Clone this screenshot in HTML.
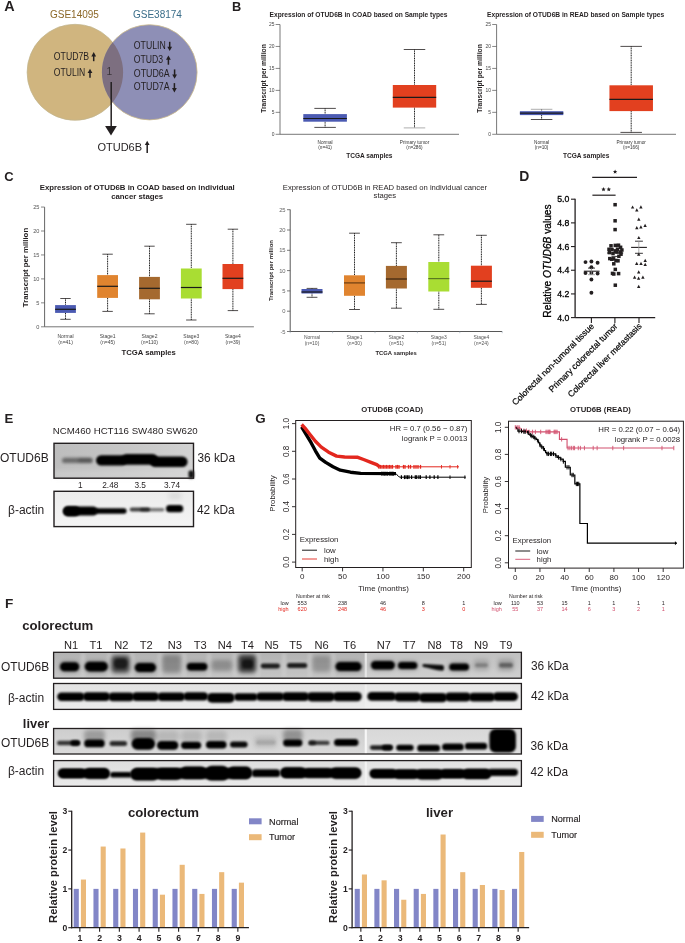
<!DOCTYPE html><html><head><meta charset="utf-8"><style>html,body{margin:0;padding:0;background:#fff;}svg{display:block;will-change:transform;}text{font-family:"Liberation Sans",sans-serif;}</style></head><body>
<svg width="685" height="943" viewBox="0 0 685 943">
<defs><filter id="bl5" x="-50%" y="-100%" width="200%" height="300%"><feGaussianBlur stdDeviation="0.5"/></filter><filter id="bl6" x="-50%" y="-100%" width="200%" height="300%"><feGaussianBlur stdDeviation="0.6"/></filter><filter id="bl7" x="-50%" y="-100%" width="200%" height="300%"><feGaussianBlur stdDeviation="0.7"/></filter><filter id="bl8" x="-50%" y="-100%" width="200%" height="300%"><feGaussianBlur stdDeviation="0.8"/></filter><filter id="bl9" x="-50%" y="-100%" width="200%" height="300%"><feGaussianBlur stdDeviation="0.9"/></filter><filter id="bl10" x="-50%" y="-100%" width="200%" height="300%"><feGaussianBlur stdDeviation="1.0"/></filter><filter id="bl11" x="-50%" y="-100%" width="200%" height="300%"><feGaussianBlur stdDeviation="1.1"/></filter><filter id="bl12" x="-50%" y="-100%" width="200%" height="300%"><feGaussianBlur stdDeviation="1.2"/></filter><filter id="bl13" x="-50%" y="-100%" width="200%" height="300%"><feGaussianBlur stdDeviation="1.3"/></filter><filter id="bl14" x="-50%" y="-100%" width="200%" height="300%"><feGaussianBlur stdDeviation="1.4"/></filter><filter id="bl15" x="-50%" y="-100%" width="200%" height="300%"><feGaussianBlur stdDeviation="1.5"/></filter><filter id="bl16" x="-50%" y="-100%" width="200%" height="300%"><feGaussianBlur stdDeviation="1.6"/></filter><filter id="bl17" x="-50%" y="-100%" width="200%" height="300%"><feGaussianBlur stdDeviation="1.7"/></filter><filter id="bl18" x="-50%" y="-100%" width="200%" height="300%"><feGaussianBlur stdDeviation="1.8"/></filter><filter id="bl19" x="-50%" y="-100%" width="200%" height="300%"><feGaussianBlur stdDeviation="1.9"/></filter><filter id="bl20" x="-50%" y="-100%" width="200%" height="300%"><feGaussianBlur stdDeviation="2.0"/></filter><filter id="bl21" x="-50%" y="-100%" width="200%" height="300%"><feGaussianBlur stdDeviation="2.1"/></filter><filter id="bl22" x="-50%" y="-100%" width="200%" height="300%"><feGaussianBlur stdDeviation="2.2"/></filter><filter id="bl23" x="-50%" y="-100%" width="200%" height="300%"><feGaussianBlur stdDeviation="2.3"/></filter><filter id="bl24" x="-50%" y="-100%" width="200%" height="300%"><feGaussianBlur stdDeviation="2.4"/></filter><filter id="bl25" x="-50%" y="-100%" width="200%" height="300%"><feGaussianBlur stdDeviation="2.5"/></filter><filter id="bl26" x="-50%" y="-100%" width="200%" height="300%"><feGaussianBlur stdDeviation="2.6"/></filter><filter id="bl27" x="-50%" y="-100%" width="200%" height="300%"><feGaussianBlur stdDeviation="2.7"/></filter><filter id="bl28" x="-50%" y="-100%" width="200%" height="300%"><feGaussianBlur stdDeviation="2.8"/></filter><filter id="bl29" x="-50%" y="-100%" width="200%" height="300%"><feGaussianBlur stdDeviation="2.9"/></filter><filter id="bl30" x="-50%" y="-100%" width="200%" height="300%"><feGaussianBlur stdDeviation="3.0"/></filter><filter id="bl31" x="-50%" y="-100%" width="200%" height="300%"><feGaussianBlur stdDeviation="3.1"/></filter><filter id="bl32" x="-50%" y="-100%" width="200%" height="300%"><feGaussianBlur stdDeviation="3.2"/></filter><filter id="bl33" x="-50%" y="-100%" width="200%" height="300%"><feGaussianBlur stdDeviation="3.3"/></filter><filter id="bl34" x="-50%" y="-100%" width="200%" height="300%"><feGaussianBlur stdDeviation="3.4"/></filter><filter id="bl35" x="-50%" y="-100%" width="200%" height="300%"><feGaussianBlur stdDeviation="3.5"/></filter><filter id="bl36" x="-50%" y="-100%" width="200%" height="300%"><feGaussianBlur stdDeviation="3.6"/></filter><filter id="bl37" x="-50%" y="-100%" width="200%" height="300%"><feGaussianBlur stdDeviation="3.7"/></filter><filter id="bl38" x="-50%" y="-100%" width="200%" height="300%"><feGaussianBlur stdDeviation="3.8"/></filter><filter id="bl39" x="-50%" y="-100%" width="200%" height="300%"><feGaussianBlur stdDeviation="3.9"/></filter><filter id="bl40" x="-50%" y="-100%" width="200%" height="300%"><feGaussianBlur stdDeviation="4.0"/></filter></defs>
<rect width="685" height="943" fill="#fff"/>
<text x="4.20" y="11.00" font-size="14.4" text-anchor="start" font-weight="bold" fill="#231f20" >A</text>
<text x="50.00" y="17.50" font-size="10" text-anchor="start" fill="#8c6828" >GSE14095</text>
<text x="133.00" y="17.50" font-size="10" text-anchor="start" fill="#3a6d89" >GSE38174</text>
<defs><clipPath id="cR"><circle cx="149.5" cy="72.3" r="47.6"/></clipPath></defs>
<circle cx="75.1" cy="72.3" r="48" fill="#d0b57f" stroke="#c0b48e" stroke-width="0.7"/>
<circle cx="149.5" cy="72.3" r="47.6" fill="#8e8fb6" stroke="#cdbb8c" stroke-width="0.8"/>
<circle cx="75.1" cy="72.3" r="48" fill="#7d6f80" clip-path="url(#cR)"/>
<text x="53.80" y="59.60" font-size="10.4" text-anchor="start" fill="#231f20"  textLength="35.30" lengthAdjust="spacingAndGlyphs">OTUD7B</text>
<line x1="93.70" y1="54.40" x2="93.70" y2="61.20" stroke="#231f20" stroke-width="1.5" />
<path d="M91.30,56.40 L93.70,52.10 L96.10,56.40 Z" fill="#231f20"/>
<text x="53.80" y="75.60" font-size="10.4" text-anchor="start" fill="#231f20"  textLength="31.50" lengthAdjust="spacingAndGlyphs">OTULIN</text>
<line x1="90.00" y1="71.00" x2="90.00" y2="77.70" stroke="#231f20" stroke-width="1.5" />
<path d="M87.60,73.00 L90.00,68.70 L92.40,73.00 Z" fill="#231f20"/>
<text x="133.80" y="49.00" font-size="10.4" text-anchor="start" fill="#231f20"  textLength="31.90" lengthAdjust="spacingAndGlyphs">OTULIN</text>
<line x1="169.70" y1="41.80" x2="169.70" y2="48.80" stroke="#231f20" stroke-width="1.5" />
<path d="M167.30,46.80 L169.70,51.10 L172.10,46.80 Z" fill="#231f20"/>
<text x="133.80" y="62.90" font-size="10.4" text-anchor="start" fill="#231f20"  textLength="29.40" lengthAdjust="spacingAndGlyphs">OTUD3</text>
<line x1="168.40" y1="57.70" x2="168.40" y2="64.70" stroke="#231f20" stroke-width="1.5" />
<path d="M166.00,59.70 L168.40,55.40 L170.80,59.70 Z" fill="#231f20"/>
<text x="133.80" y="76.60" font-size="10.4" text-anchor="start" fill="#231f20"  textLength="35.90" lengthAdjust="spacingAndGlyphs">OTUD6A</text>
<line x1="174.60" y1="69.40" x2="174.60" y2="76.40" stroke="#231f20" stroke-width="1.5" />
<path d="M172.20,74.40 L174.60,78.70 L177.00,74.40 Z" fill="#231f20"/>
<text x="133.80" y="90.30" font-size="10.4" text-anchor="start" fill="#231f20"  textLength="35.90" lengthAdjust="spacingAndGlyphs">OTUD7A</text>
<line x1="174.40" y1="83.10" x2="174.40" y2="90.10" stroke="#231f20" stroke-width="1.5" />
<path d="M172.00,88.10 L174.40,92.40 L176.80,88.10 Z" fill="#231f20"/>
<text x="106.60" y="74.50" font-size="10.2" text-anchor="start" fill="#3a3438" >1</text>
<line x1="111.20" y1="82.00" x2="111.20" y2="127.00" stroke="#231f20" stroke-width="1.5" />
<path d="M105.1,125.9 L116.8,125.9 L111,135.5 Z" fill="#231f20"/>
<text x="97.40" y="150.70" font-size="11.6" text-anchor="start" fill="#231f20"  textLength="44.70" lengthAdjust="spacingAndGlyphs">OTUD6B</text>
<line x1="147.20" y1="143.00" x2="147.20" y2="152.90" stroke="#231f20" stroke-width="1.5" />
<path d="M144.80,145.00 L147.20,140.70 L149.60,145.00 Z" fill="#231f20"/>
<text x="231.90" y="11.00" font-size="12.8" text-anchor="start" font-weight="bold" fill="#231f20" >B</text>
<text x="269.60" y="17.00" font-size="6.65" text-anchor="start" font-weight="bold" fill="#231f20" >Expression of OTUD6B in COAD based on Sample types</text>
<line x1="280.00" y1="24.50" x2="280.00" y2="134.30" stroke="#555" stroke-width="0.8" />
<line x1="280.00" y1="134.30" x2="459.00" y2="134.30" stroke="#555" stroke-width="0.8" />
<line x1="275.60" y1="134.30" x2="280.00" y2="134.30" stroke="#555" stroke-width="0.7" />
<text x="274.40" y="136.00" font-size="4.9" text-anchor="end" fill="#444" >0</text>
<line x1="275.60" y1="112.34" x2="280.00" y2="112.34" stroke="#555" stroke-width="0.7" />
<text x="274.40" y="114.04" font-size="4.9" text-anchor="end" fill="#444" >5</text>
<line x1="275.60" y1="90.38" x2="280.00" y2="90.38" stroke="#555" stroke-width="0.7" />
<text x="274.40" y="92.08" font-size="4.9" text-anchor="end" fill="#444" >10</text>
<line x1="275.60" y1="68.42" x2="280.00" y2="68.42" stroke="#555" stroke-width="0.7" />
<text x="274.40" y="70.12" font-size="4.9" text-anchor="end" fill="#444" >15</text>
<line x1="275.60" y1="46.46" x2="280.00" y2="46.46" stroke="#555" stroke-width="0.7" />
<text x="274.40" y="48.16" font-size="4.9" text-anchor="end" fill="#444" >20</text>
<line x1="275.60" y1="24.50" x2="280.00" y2="24.50" stroke="#555" stroke-width="0.7" />
<text x="274.40" y="26.20" font-size="4.9" text-anchor="end" fill="#444" >25</text>
<text transform="translate(265.70,78.50) rotate(-90)" x="0" y="0" font-size="6.75" text-anchor="middle" font-weight="bold" fill="#231f20">Transcript per million</text>
<line x1="325.10" y1="108.40" x2="325.10" y2="114.10" stroke="#111" stroke-width="0.95" stroke-dasharray="1.1,0.6"/>
<line x1="325.10" y1="121.70" x2="325.10" y2="127.40" stroke="#111" stroke-width="0.95" stroke-dasharray="1.1,0.6"/>
<line x1="314.35" y1="108.40" x2="335.85" y2="108.40" stroke="#231f20" stroke-width="0.8" />
<line x1="314.35" y1="127.40" x2="335.85" y2="127.40" stroke="#231f20" stroke-width="0.8" />
<rect x="303.30" y="114.10" width="43.60" height="7.60" fill="#4b5ab2" />
<line x1="303.30" y1="118.50" x2="346.90" y2="118.50" stroke="#1a1a1a" stroke-width="1.2" />
<text x="325.10" y="143.60" font-size="4.7" text-anchor="middle" fill="#333" >Normal</text>
<text x="325.10" y="149.00" font-size="4.7" text-anchor="middle" fill="#333" >(n=41)</text>
<line x1="414.50" y1="49.50" x2="414.50" y2="85.00" stroke="#111" stroke-width="0.95" stroke-dasharray="1.1,0.6"/>
<line x1="414.50" y1="107.60" x2="414.50" y2="127.90" stroke="#111" stroke-width="0.95" stroke-dasharray="1.1,0.6"/>
<line x1="403.75" y1="49.50" x2="425.25" y2="49.50" stroke="#231f20" stroke-width="0.8" />
<line x1="403.75" y1="127.90" x2="425.25" y2="127.90" stroke="#999" stroke-width="0.8" />
<rect x="392.80" y="85.00" width="43.40" height="22.60" fill="#e2401f" />
<line x1="392.80" y1="97.40" x2="436.20" y2="97.40" stroke="#1a1a1a" stroke-width="1.2" />
<text x="414.50" y="143.60" font-size="4.7" text-anchor="middle" fill="#333" >Primary tumor</text>
<text x="414.50" y="149.00" font-size="4.7" text-anchor="middle" fill="#333" >(n=286)</text>
<text x="346.20" y="158.00" font-size="6.55" text-anchor="start" font-weight="bold" fill="#231f20" >TCGA samples</text>
<text x="487.10" y="17.00" font-size="6.65" text-anchor="start" font-weight="bold" fill="#231f20" >Expression of OTUD6B in READ based on Sample types</text>
<line x1="496.60" y1="24.50" x2="496.60" y2="134.30" stroke="#555" stroke-width="0.8" />
<line x1="496.60" y1="134.30" x2="676.00" y2="134.30" stroke="#555" stroke-width="0.8" />
<line x1="492.20" y1="134.30" x2="496.60" y2="134.30" stroke="#555" stroke-width="0.7" />
<text x="491.00" y="136.00" font-size="4.9" text-anchor="end" fill="#444" >0</text>
<line x1="492.20" y1="112.34" x2="496.60" y2="112.34" stroke="#555" stroke-width="0.7" />
<text x="491.00" y="114.04" font-size="4.9" text-anchor="end" fill="#444" >5</text>
<line x1="492.20" y1="90.38" x2="496.60" y2="90.38" stroke="#555" stroke-width="0.7" />
<text x="491.00" y="92.08" font-size="4.9" text-anchor="end" fill="#444" >10</text>
<line x1="492.20" y1="68.42" x2="496.60" y2="68.42" stroke="#555" stroke-width="0.7" />
<text x="491.00" y="70.12" font-size="4.9" text-anchor="end" fill="#444" >15</text>
<line x1="492.20" y1="46.46" x2="496.60" y2="46.46" stroke="#555" stroke-width="0.7" />
<text x="491.00" y="48.16" font-size="4.9" text-anchor="end" fill="#444" >20</text>
<line x1="492.20" y1="24.50" x2="496.60" y2="24.50" stroke="#555" stroke-width="0.7" />
<text x="491.00" y="26.20" font-size="4.9" text-anchor="end" fill="#444" >25</text>
<text transform="translate(481.60,78.50) rotate(-90)" x="0" y="0" font-size="6.75" text-anchor="middle" font-weight="bold" fill="#231f20">Transcript per million</text>
<line x1="541.60" y1="109.30" x2="541.60" y2="111.20" stroke="#111" stroke-width="0.95" stroke-dasharray="1.1,0.6"/>
<line x1="541.60" y1="115.10" x2="541.60" y2="119.50" stroke="#111" stroke-width="0.95" stroke-dasharray="1.1,0.6"/>
<line x1="530.85" y1="109.30" x2="552.35" y2="109.30" stroke="#999" stroke-width="0.8" />
<line x1="530.85" y1="119.50" x2="552.35" y2="119.50" stroke="#231f20" stroke-width="0.8" />
<rect x="519.90" y="111.20" width="43.40" height="3.90" fill="#4b5ab2" />
<line x1="519.90" y1="113.10" x2="563.30" y2="113.10" stroke="#1a1a1a" stroke-width="1.2" />
<text x="541.60" y="143.60" font-size="4.7" text-anchor="middle" fill="#333" >Normal</text>
<text x="541.60" y="149.00" font-size="4.7" text-anchor="middle" fill="#333" >(n=10)</text>
<line x1="631.20" y1="46.40" x2="631.20" y2="85.30" stroke="#111" stroke-width="0.95" stroke-dasharray="1.1,0.6"/>
<line x1="631.20" y1="111.10" x2="631.20" y2="132.40" stroke="#111" stroke-width="0.95" stroke-dasharray="1.1,0.6"/>
<line x1="620.45" y1="46.40" x2="641.95" y2="46.40" stroke="#231f20" stroke-width="0.8" />
<line x1="620.45" y1="132.40" x2="641.95" y2="132.40" stroke="#231f20" stroke-width="0.8" />
<rect x="609.45" y="85.30" width="43.50" height="25.80" fill="#e2401f" />
<line x1="609.45" y1="99.40" x2="652.95" y2="99.40" stroke="#1a1a1a" stroke-width="1.2" />
<text x="631.20" y="143.60" font-size="4.7" text-anchor="middle" fill="#333" >Primary tumor</text>
<text x="631.20" y="149.00" font-size="4.7" text-anchor="middle" fill="#333" >(n=166)</text>
<text x="563.00" y="158.00" font-size="6.55" text-anchor="start" font-weight="bold" fill="#231f20" >TCGA samples</text>
<text x="4.20" y="180.60" font-size="13" text-anchor="start" font-weight="bold" fill="#231f20" >C</text>
<text x="137.20" y="190.00" font-size="7.8" text-anchor="middle" font-weight="bold" fill="#231f20" >Expression of OTUD6B in COAD based on individual</text>
<text x="137.20" y="198.80" font-size="7.8" text-anchor="middle" font-weight="bold" fill="#231f20" >cancer stages</text>
<line x1="44.60" y1="207.10" x2="44.60" y2="326.80" stroke="#555" stroke-width="0.9" />
<line x1="44.60" y1="326.80" x2="253.90" y2="326.80" stroke="#666" stroke-width="0.9" />
<line x1="41.00" y1="326.80" x2="44.60" y2="326.80" stroke="#555" stroke-width="0.7" />
<text x="39.40" y="328.80" font-size="5.6" text-anchor="end" fill="#555" >0</text>
<line x1="41.00" y1="302.85" x2="44.60" y2="302.85" stroke="#555" stroke-width="0.7" />
<text x="39.40" y="304.85" font-size="5.6" text-anchor="end" fill="#555" >5</text>
<line x1="41.00" y1="278.90" x2="44.60" y2="278.90" stroke="#555" stroke-width="0.7" />
<text x="39.40" y="280.90" font-size="5.6" text-anchor="end" fill="#555" >10</text>
<line x1="41.00" y1="254.95" x2="44.60" y2="254.95" stroke="#555" stroke-width="0.7" />
<text x="39.40" y="256.95" font-size="5.6" text-anchor="end" fill="#555" >15</text>
<line x1="41.00" y1="231.00" x2="44.60" y2="231.00" stroke="#555" stroke-width="0.7" />
<text x="39.40" y="233.00" font-size="5.6" text-anchor="end" fill="#555" >20</text>
<line x1="41.00" y1="207.05" x2="44.60" y2="207.05" stroke="#555" stroke-width="0.7" />
<text x="39.40" y="209.05" font-size="5.6" text-anchor="end" fill="#555" >25</text>
<text transform="translate(28.30,267.50) rotate(-90)" x="0" y="0" font-size="7.8" text-anchor="middle" font-weight="bold" fill="#231f20">Transcript per million</text>
<line x1="65.50" y1="298.50" x2="65.50" y2="305.10" stroke="#111" stroke-width="0.95" stroke-dasharray="1.1,0.6"/>
<line x1="65.50" y1="312.90" x2="65.50" y2="319.30" stroke="#111" stroke-width="0.95" stroke-dasharray="1.1,0.6"/>
<line x1="60.30" y1="298.50" x2="70.70" y2="298.50" stroke="#231f20" stroke-width="0.8" />
<line x1="60.30" y1="319.30" x2="70.70" y2="319.30" stroke="#231f20" stroke-width="0.8" />
<rect x="55.10" y="305.10" width="20.80" height="7.80" fill="#4b5ab2" />
<line x1="55.10" y1="309.30" x2="75.90" y2="309.30" stroke="#1a1a1a" stroke-width="1.2" />
<text x="65.50" y="337.70" font-size="5.0" text-anchor="middle" fill="#444" >Normal</text>
<text x="65.50" y="344.20" font-size="5.0" text-anchor="middle" fill="#444" >(n=41)</text>
<line x1="107.60" y1="254.20" x2="107.60" y2="275.10" stroke="#111" stroke-width="0.95" stroke-dasharray="1.1,0.6"/>
<line x1="107.60" y1="297.90" x2="107.60" y2="311.40" stroke="#111" stroke-width="0.95" stroke-dasharray="1.1,0.6"/>
<line x1="102.40" y1="254.20" x2="112.80" y2="254.20" stroke="#231f20" stroke-width="0.8" />
<line x1="102.40" y1="311.40" x2="112.80" y2="311.40" stroke="#231f20" stroke-width="0.8" />
<rect x="97.20" y="275.10" width="20.80" height="22.80" fill="#e0842f" />
<line x1="97.20" y1="286.30" x2="118.00" y2="286.30" stroke="#1a1a1a" stroke-width="1.2" />
<text x="107.60" y="337.70" font-size="5.0" text-anchor="middle" fill="#444" >Stage1</text>
<text x="107.60" y="344.20" font-size="5.0" text-anchor="middle" fill="#444" >(n=45)</text>
<line x1="149.50" y1="246.20" x2="149.50" y2="276.90" stroke="#111" stroke-width="0.95" stroke-dasharray="1.1,0.6"/>
<line x1="149.50" y1="299.30" x2="149.50" y2="313.80" stroke="#111" stroke-width="0.95" stroke-dasharray="1.1,0.6"/>
<line x1="144.30" y1="246.20" x2="154.70" y2="246.20" stroke="#231f20" stroke-width="0.8" />
<line x1="144.30" y1="313.80" x2="154.70" y2="313.80" stroke="#231f20" stroke-width="0.8" />
<rect x="139.10" y="276.90" width="20.80" height="22.40" fill="#a5692f" />
<line x1="139.10" y1="288.30" x2="159.90" y2="288.30" stroke="#1a1a1a" stroke-width="1.2" />
<text x="149.50" y="337.70" font-size="5.0" text-anchor="middle" fill="#444" >Stage2</text>
<text x="149.50" y="344.20" font-size="5.0" text-anchor="middle" fill="#444" >(n=110)</text>
<line x1="191.30" y1="224.30" x2="191.30" y2="268.50" stroke="#111" stroke-width="0.95" stroke-dasharray="1.1,0.6"/>
<line x1="191.30" y1="298.50" x2="191.30" y2="320.00" stroke="#111" stroke-width="0.95" stroke-dasharray="1.1,0.6"/>
<line x1="186.10" y1="224.30" x2="196.50" y2="224.30" stroke="#231f20" stroke-width="0.8" />
<line x1="186.10" y1="320.00" x2="196.50" y2="320.00" stroke="#231f20" stroke-width="0.8" />
<rect x="180.90" y="268.50" width="20.80" height="30.00" fill="#a9dd33" />
<line x1="180.90" y1="287.50" x2="201.70" y2="287.50" stroke="#1a1a1a" stroke-width="1.2" />
<text x="191.30" y="337.70" font-size="5.0" text-anchor="middle" fill="#444" >Stage3</text>
<text x="191.30" y="344.20" font-size="5.0" text-anchor="middle" fill="#444" >(n=80)</text>
<line x1="232.90" y1="229.20" x2="232.90" y2="264.00" stroke="#111" stroke-width="0.95" stroke-dasharray="1.1,0.6"/>
<line x1="232.90" y1="289.10" x2="232.90" y2="310.60" stroke="#111" stroke-width="0.95" stroke-dasharray="1.1,0.6"/>
<line x1="227.70" y1="229.20" x2="238.10" y2="229.20" stroke="#231f20" stroke-width="0.8" />
<line x1="227.70" y1="310.60" x2="238.10" y2="310.60" stroke="#231f20" stroke-width="0.8" />
<rect x="222.50" y="264.00" width="20.80" height="25.10" fill="#e2401f" />
<line x1="222.50" y1="278.30" x2="243.30" y2="278.30" stroke="#1a1a1a" stroke-width="1.2" />
<text x="232.90" y="337.70" font-size="5.0" text-anchor="middle" fill="#444" >Stage4</text>
<text x="232.90" y="344.20" font-size="5.0" text-anchor="middle" fill="#444" >(n=39)</text>
<text x="121.50" y="355.00" font-size="7.7" text-anchor="start" font-weight="bold" fill="#231f20" >TCGA samples</text>
<text x="384.90" y="189.50" font-size="7.68" text-anchor="middle" fill="#231f20" >Expression of OTUD6B in READ based on individual cancer</text>
<text x="384.90" y="198.30" font-size="7.68" text-anchor="middle" fill="#231f20" >stages</text>
<line x1="290.20" y1="209.50" x2="290.20" y2="331.50" stroke="#444" stroke-width="0.9" />
<line x1="290.20" y1="331.50" x2="502.20" y2="331.50" stroke="#444" stroke-width="0.9" />
<line x1="287.00" y1="331.50" x2="290.20" y2="331.50" stroke="#444" stroke-width="0.7" />
<text x="285.60" y="333.60" font-size="5.8" text-anchor="end" fill="#666" >-5</text>
<line x1="287.00" y1="311.20" x2="290.20" y2="311.20" stroke="#444" stroke-width="0.7" />
<text x="285.60" y="313.30" font-size="5.8" text-anchor="end" fill="#666" >0</text>
<line x1="287.00" y1="290.90" x2="290.20" y2="290.90" stroke="#444" stroke-width="0.7" />
<text x="285.60" y="293.00" font-size="5.8" text-anchor="end" fill="#666" >5</text>
<line x1="287.00" y1="270.60" x2="290.20" y2="270.60" stroke="#444" stroke-width="0.7" />
<text x="285.60" y="272.70" font-size="5.8" text-anchor="end" fill="#666" >10</text>
<line x1="287.00" y1="250.30" x2="290.20" y2="250.30" stroke="#444" stroke-width="0.7" />
<text x="285.60" y="252.40" font-size="5.8" text-anchor="end" fill="#666" >15</text>
<line x1="287.00" y1="230.00" x2="290.20" y2="230.00" stroke="#444" stroke-width="0.7" />
<text x="285.60" y="232.10" font-size="5.8" text-anchor="end" fill="#666" >20</text>
<line x1="287.00" y1="209.70" x2="290.20" y2="209.70" stroke="#444" stroke-width="0.7" />
<text x="285.60" y="211.80" font-size="5.8" text-anchor="end" fill="#666" >25</text>
<line x1="290.20" y1="331.50" x2="290.20" y2="333.20" stroke="#9ab" stroke-width="0.6" />
<line x1="332.60" y1="331.50" x2="332.60" y2="333.20" stroke="#9ab" stroke-width="0.6" />
<line x1="375.00" y1="331.50" x2="375.00" y2="333.20" stroke="#9ab" stroke-width="0.6" />
<line x1="417.40" y1="331.50" x2="417.40" y2="333.20" stroke="#9ab" stroke-width="0.6" />
<line x1="459.80" y1="331.50" x2="459.80" y2="333.20" stroke="#9ab" stroke-width="0.6" />
<line x1="502.20" y1="331.50" x2="502.20" y2="333.20" stroke="#9ab" stroke-width="0.6" />
<text transform="translate(272.80,270.50) rotate(-90)" x="0" y="0" font-size="6.0" text-anchor="middle" font-weight="bold" fill="#231f20">Transcript per million</text>
<line x1="312.00" y1="288.40" x2="312.00" y2="289.00" stroke="#111" stroke-width="0.95" stroke-dasharray="1.1,0.6"/>
<line x1="312.00" y1="293.50" x2="312.00" y2="297.30" stroke="#111" stroke-width="0.95" stroke-dasharray="1.1,0.6"/>
<line x1="306.60" y1="288.40" x2="317.40" y2="288.40" stroke="#231f20" stroke-width="0.8" />
<line x1="306.60" y1="297.30" x2="317.40" y2="297.30" stroke="#231f20" stroke-width="0.8" />
<rect x="301.50" y="289.00" width="21.00" height="4.50" fill="#4b5ab2" />
<line x1="301.50" y1="292.00" x2="322.50" y2="292.00" stroke="#1a1a1a" stroke-width="1.2" />
<text x="312.00" y="339.00" font-size="5.0" text-anchor="middle" fill="#555" >Normal</text>
<text x="312.00" y="345.00" font-size="5.0" text-anchor="middle" fill="#555" >(n=10)</text>
<line x1="354.50" y1="233.20" x2="354.50" y2="275.30" stroke="#111" stroke-width="0.95" stroke-dasharray="1.1,0.6"/>
<line x1="354.50" y1="295.80" x2="354.50" y2="309.50" stroke="#111" stroke-width="0.95" stroke-dasharray="1.1,0.6"/>
<line x1="349.10" y1="233.20" x2="359.90" y2="233.20" stroke="#231f20" stroke-width="0.8" />
<line x1="349.10" y1="309.50" x2="359.90" y2="309.50" stroke="#231f20" stroke-width="0.8" />
<rect x="344.00" y="275.30" width="21.00" height="20.50" fill="#e0842f" />
<line x1="344.00" y1="282.90" x2="365.00" y2="282.90" stroke="#6b3d12" stroke-width="1.2" />
<text x="354.50" y="339.00" font-size="5.0" text-anchor="middle" fill="#555" >Stage1</text>
<text x="354.50" y="345.00" font-size="5.0" text-anchor="middle" fill="#555" >(n=30)</text>
<line x1="396.40" y1="242.70" x2="396.40" y2="265.90" stroke="#111" stroke-width="0.95" stroke-dasharray="1.1,0.6"/>
<line x1="396.40" y1="288.50" x2="396.40" y2="308.20" stroke="#111" stroke-width="0.95" stroke-dasharray="1.1,0.6"/>
<line x1="391.00" y1="242.70" x2="401.80" y2="242.70" stroke="#231f20" stroke-width="0.8" />
<line x1="391.00" y1="308.20" x2="401.80" y2="308.20" stroke="#231f20" stroke-width="0.8" />
<rect x="385.90" y="265.90" width="21.00" height="22.60" fill="#a5692f" />
<line x1="385.90" y1="279.00" x2="406.90" y2="279.00" stroke="#3b2410" stroke-width="1.2" />
<text x="396.40" y="339.00" font-size="5.0" text-anchor="middle" fill="#555" >Stage2</text>
<text x="396.40" y="345.00" font-size="5.0" text-anchor="middle" fill="#555" >(n=51)</text>
<line x1="438.80" y1="234.80" x2="438.80" y2="262.00" stroke="#111" stroke-width="0.95" stroke-dasharray="1.1,0.6"/>
<line x1="438.80" y1="291.50" x2="438.80" y2="309.30" stroke="#111" stroke-width="0.95" stroke-dasharray="1.1,0.6"/>
<line x1="433.40" y1="234.80" x2="444.20" y2="234.80" stroke="#231f20" stroke-width="0.8" />
<line x1="433.40" y1="309.30" x2="444.20" y2="309.30" stroke="#231f20" stroke-width="0.8" />
<rect x="428.30" y="262.00" width="21.00" height="29.50" fill="#a9dd33" />
<line x1="428.30" y1="278.60" x2="449.30" y2="278.60" stroke="#5a7a20" stroke-width="1.2" />
<text x="438.80" y="339.00" font-size="5.0" text-anchor="middle" fill="#555" >Stage3</text>
<text x="438.80" y="345.00" font-size="5.0" text-anchor="middle" fill="#555" >(n=51)</text>
<line x1="481.40" y1="235.30" x2="481.40" y2="265.70" stroke="#111" stroke-width="0.95" stroke-dasharray="1.1,0.6"/>
<line x1="481.40" y1="287.80" x2="481.40" y2="304.40" stroke="#111" stroke-width="0.95" stroke-dasharray="1.1,0.6"/>
<line x1="476.00" y1="235.30" x2="486.80" y2="235.30" stroke="#231f20" stroke-width="0.8" />
<line x1="476.00" y1="304.40" x2="486.80" y2="304.40" stroke="#231f20" stroke-width="0.8" />
<rect x="470.90" y="265.70" width="21.00" height="22.10" fill="#e2401f" />
<line x1="470.90" y1="281.20" x2="491.90" y2="281.20" stroke="#1a1a1a" stroke-width="1.2" />
<text x="481.40" y="339.00" font-size="5.0" text-anchor="middle" fill="#555" >Stage4</text>
<text x="481.40" y="345.00" font-size="5.0" text-anchor="middle" fill="#555" >(n=24)</text>
<text x="396.20" y="355.00" font-size="5.85" text-anchor="middle" font-weight="bold" fill="#231f20" >TCGA samples</text>
<text x="519.20" y="180.90" font-size="13.9" text-anchor="start" font-weight="bold" fill="#231f20" >D</text>
<line x1="575.10" y1="198.70" x2="575.10" y2="317.60" stroke="#231f20" stroke-width="1.3" />
<line x1="575.10" y1="317.60" x2="655.20" y2="317.60" stroke="#231f20" stroke-width="1.3" />
<line x1="571.00" y1="317.60" x2="575.10" y2="317.60" stroke="#231f20" stroke-width="1.1" />
<text x="569.30" y="320.60" font-size="8.7" text-anchor="end" fill="#000" stroke="#000" stroke-width="0.3">4.0</text>
<line x1="571.00" y1="293.92" x2="575.10" y2="293.92" stroke="#231f20" stroke-width="1.1" />
<text x="569.30" y="296.92" font-size="8.7" text-anchor="end" fill="#000" stroke="#000" stroke-width="0.3">4.2</text>
<line x1="571.00" y1="270.24" x2="575.10" y2="270.24" stroke="#231f20" stroke-width="1.1" />
<text x="569.30" y="273.24" font-size="8.7" text-anchor="end" fill="#000" stroke="#000" stroke-width="0.3">4.4</text>
<line x1="571.00" y1="246.56" x2="575.10" y2="246.56" stroke="#231f20" stroke-width="1.1" />
<text x="569.30" y="249.56" font-size="8.7" text-anchor="end" fill="#000" stroke="#000" stroke-width="0.3">4.6</text>
<line x1="571.00" y1="222.88" x2="575.10" y2="222.88" stroke="#231f20" stroke-width="1.1" />
<text x="569.30" y="225.88" font-size="8.7" text-anchor="end" fill="#000" stroke="#000" stroke-width="0.3">4.8</text>
<line x1="571.00" y1="199.20" x2="575.10" y2="199.20" stroke="#231f20" stroke-width="1.1" />
<text x="569.30" y="202.20" font-size="8.7" text-anchor="end" fill="#000" stroke="#000" stroke-width="0.3">5.0</text>
<line x1="591.40" y1="317.60" x2="591.40" y2="322.90" stroke="#231f20" stroke-width="1.1" />
<line x1="614.90" y1="317.60" x2="614.90" y2="322.90" stroke="#231f20" stroke-width="1.1" />
<line x1="639.00" y1="317.60" x2="639.00" y2="322.90" stroke="#231f20" stroke-width="1.1" />
<line x1="592.20" y1="177.40" x2="637.00" y2="177.40" stroke="#231f20" stroke-width="1.2" />
<line x1="592.40" y1="195.20" x2="615.60" y2="195.20" stroke="#231f20" stroke-width="1.2" />
<polygon points="615.10,169.50 615.71,170.96 617.29,171.09 616.08,172.12 616.45,173.66 615.10,172.84 613.75,173.66 614.12,172.12 612.91,171.09 614.49,170.96" fill="#231f20"/>
<polygon points="603.50,187.10 604.11,188.56 605.69,188.69 604.48,189.72 604.85,191.26 603.50,190.44 602.15,191.26 602.52,189.72 601.31,188.69 602.89,188.56" fill="#231f20"/>
<polygon points="608.80,187.10 609.41,188.56 610.99,188.69 609.78,189.72 610.15,191.26 608.80,190.44 607.45,191.26 607.82,189.72 606.61,188.69 608.19,188.56" fill="#231f20"/>
<circle cx="585.5" cy="262.1" r="1.95" fill="#231f20"/>
<circle cx="591.4" cy="261.5" r="1.95" fill="#231f20"/>
<circle cx="597.6" cy="262.7" r="1.95" fill="#231f20"/>
<circle cx="591.4" cy="267.3" r="1.95" fill="#231f20"/>
<circle cx="585.5" cy="273.0" r="1.95" fill="#231f20"/>
<circle cx="591.4" cy="273.0" r="1.95" fill="#231f20"/>
<circle cx="597.6" cy="273.5" r="1.95" fill="#231f20"/>
<circle cx="591.4" cy="279.5" r="1.95" fill="#231f20"/>
<circle cx="591.4" cy="292.7" r="1.95" fill="#231f20"/>
<line x1="583.80" y1="271.20" x2="599.60" y2="271.20" stroke="#231f20" stroke-width="1.1" />
<line x1="588.00" y1="268.10" x2="595.00" y2="268.10" stroke="#231f20" stroke-width="0.9" />
<line x1="591.40" y1="268.10" x2="591.40" y2="274.70" stroke="#888" stroke-width="0.8" />
<line x1="588.00" y1="274.70" x2="595.00" y2="274.70" stroke="#999" stroke-width="0.9" />
<rect x="613.35" y="202.95" width="3.50" height="3.50" fill="#231f20" />
<rect x="613.35" y="219.05" width="3.50" height="3.50" fill="#231f20" />
<rect x="613.35" y="227.85" width="3.50" height="3.50" fill="#231f20" />
<rect x="613.55" y="243.65" width="3.50" height="3.50" fill="#231f20" />
<rect x="607.25" y="247.55" width="3.50" height="3.50" fill="#231f20" />
<rect x="618.85" y="245.55" width="3.50" height="3.50" fill="#231f20" />
<rect x="620.15" y="248.25" width="3.50" height="3.50" fill="#231f20" />
<rect x="613.55" y="249.55" width="3.50" height="3.50" fill="#231f20" />
<rect x="607.65" y="250.85" width="3.50" height="3.50" fill="#231f20" />
<rect x="618.85" y="250.25" width="3.50" height="3.50" fill="#231f20" />
<rect x="617.15" y="254.55" width="3.50" height="3.50" fill="#231f20" />
<rect x="610.05" y="257.45" width="3.50" height="3.50" fill="#231f20" />
<rect x="614.25" y="258.75" width="3.50" height="3.50" fill="#231f20" />
<rect x="612.05" y="262.05" width="3.50" height="3.50" fill="#231f20" />
<rect x="613.55" y="267.65" width="3.50" height="3.50" fill="#231f20" />
<rect x="612.05" y="272.25" width="3.50" height="3.50" fill="#231f20" />
<rect x="616.85" y="271.85" width="3.50" height="3.50" fill="#231f20" />
<rect x="613.55" y="283.45" width="3.50" height="3.50" fill="#231f20" />
<rect x="609.25" y="244.05" width="3.50" height="3.50" fill="#231f20" />
<rect x="616.75" y="243.45" width="3.50" height="3.50" fill="#231f20" />
<rect x="610.25" y="247.75" width="3.50" height="3.50" fill="#231f20" />
<rect x="615.75" y="247.45" width="3.50" height="3.50" fill="#231f20" />
<rect x="611.25" y="251.75" width="3.50" height="3.50" fill="#231f20" />
<rect x="619.25" y="252.45" width="3.50" height="3.50" fill="#231f20" />
<rect x="608.05" y="256.85" width="3.50" height="3.50" fill="#231f20" />
<rect x="611.85" y="257.05" width="3.50" height="3.50" fill="#231f20" />
<rect x="616.25" y="259.05" width="3.50" height="3.50" fill="#231f20" />
<rect x="610.75" y="271.65" width="3.50" height="3.50" fill="#231f20" />
<rect x="615.25" y="250.25" width="3.50" height="3.50" fill="#231f20" />
<line x1="607.20" y1="253.00" x2="623.20" y2="253.00" stroke="#231f20" stroke-width="1.1" />
<line x1="611.50" y1="249.60" x2="619.00" y2="249.60" stroke="#231f20" stroke-width="0.9" />
<line x1="611.50" y1="256.40" x2="619.00" y2="256.40" stroke="#231f20" stroke-width="0.9" />
<path d="M630.90,208.60 L632.60,205.40 L634.30,208.60 Z" fill="#231f20"/>
<path d="M635.10,211.50 L636.80,208.30 L638.50,211.50 Z" fill="#231f20"/>
<path d="M639.20,208.40 L640.90,205.20 L642.60,208.40 Z" fill="#231f20"/>
<path d="M637.10,220.70 L638.80,217.50 L640.50,220.70 Z" fill="#231f20"/>
<path d="M635.10,229.20 L636.80,226.00 L638.50,229.20 Z" fill="#231f20"/>
<path d="M639.20,228.50 L640.90,225.30 L642.60,228.50 Z" fill="#231f20"/>
<path d="M643.40,227.00 L645.10,223.80 L646.80,227.00 Z" fill="#231f20"/>
<path d="M637.10,239.10 L638.80,235.90 L640.50,239.10 Z" fill="#231f20"/>
<path d="M637.00,255.70 L638.70,252.50 L640.40,255.70 Z" fill="#231f20"/>
<path d="M635.00,265.00 L636.70,261.80 L638.40,265.00 Z" fill="#231f20"/>
<path d="M639.30,265.00 L641.00,261.80 L642.70,265.00 Z" fill="#231f20"/>
<path d="M643.50,262.00 L645.20,258.80 L646.90,262.00 Z" fill="#231f20"/>
<path d="M643.50,265.90 L645.20,262.70 L646.90,265.90 Z" fill="#231f20"/>
<path d="M637.00,273.40 L638.70,270.20 L640.40,273.40 Z" fill="#231f20"/>
<path d="M632.90,278.80 L634.60,275.60 L636.30,278.80 Z" fill="#231f20"/>
<path d="M636.90,279.70 L638.60,276.50 L640.30,279.70 Z" fill="#231f20"/>
<path d="M641.20,278.80 L642.90,275.60 L644.60,278.80 Z" fill="#231f20"/>
<path d="M637.00,287.90 L638.70,284.70 L640.40,287.90 Z" fill="#231f20"/>
<line x1="631.10" y1="247.40" x2="646.90" y2="247.40" stroke="#231f20" stroke-width="1.1" />
<line x1="635.00" y1="241.20" x2="642.90" y2="241.20" stroke="#231f20" stroke-width="0.9" />
<line x1="638.80" y1="241.20" x2="638.80" y2="253.30" stroke="#999" stroke-width="0.8" />
<line x1="635.00" y1="253.30" x2="642.90" y2="253.30" stroke="#231f20" stroke-width="0.9" />
<text transform="translate(550.6,261.0) rotate(-90)" font-size="10.2" text-anchor="middle" fill="#000" stroke="#000" stroke-width="0.3">Relative <tspan font-style="italic">OTUD6B</tspan> values</text>
<text transform="translate(594.60,326.80) rotate(-45)" font-size="8.6" text-anchor="end" fill="#000" stroke="#000" stroke-width="0.2">Colorectal non-tumoral tissue</text>
<text transform="translate(618.10,326.80) rotate(-45)" font-size="8.6" text-anchor="end" fill="#000" stroke="#000" stroke-width="0.2">Primary colorectal tumor</text>
<text transform="translate(642.20,326.80) rotate(-45)" font-size="8.6" text-anchor="end" fill="#000" stroke="#000" stroke-width="0.2">Colorectal liver metastasis</text>
<text x="4.50" y="423.10" font-size="13.2" text-anchor="start" font-weight="bold" fill="#231f20" >E</text>
<text x="52.80" y="434.40" font-size="9.68" text-anchor="start" fill="#231f20" >NCM460 HCT116 SW480 SW620</text>
<defs><linearGradient id="gE1h" x1="0" y1="0" x2="1" y2="0"><stop offset="0" stop-color="#bdbdbd"/><stop offset="0.5" stop-color="#c6c6c6"/><stop offset="1" stop-color="#d2d2d2"/></linearGradient></defs>
<rect x="54.00" y="443.30" width="139.50" height="34.90" fill="url(#gE1h)" />
<rect x="54.00" y="470.00" width="139.50" height="8.20" fill="#e0e0e0" fill-opacity="0.35" filter="url(#bl20)"/>
<rect x="62.00" y="457.70" width="30.60" height="5.40" rx="2.70" fill="#000" fill-opacity="0.45" filter="url(#bl14)"/>
<rect x="78.00" y="458.20" width="14.60" height="4.40" rx="2.20" fill="#000" fill-opacity="0.2" filter="url(#bl14)"/>
<rect x="96.00" y="455.20" width="31.00" height="10.40" rx="5.20" fill="#000" fill-opacity="1.0" filter="url(#bl11)"/>
<rect x="121.00" y="454.10" width="37.00" height="10.60" rx="5.30" fill="#000" fill-opacity="1.0" filter="url(#bl11)"/>
<rect x="150.00" y="456.50" width="37.60" height="10.60" rx="5.30" fill="#000" fill-opacity="1.0" filter="url(#bl11)"/>
<rect x="188.50" y="470.50" width="5.50" height="8.00" rx="1.83" fill="#000" fill-opacity="0.9" filter="url(#bl10)"/>
<rect x="54" y="443.3" width="139.5" height="34.9" fill="none" stroke="#231f20" stroke-width="1.4"/>
<text x="0.00" y="462.30" font-size="12.0" text-anchor="start" fill="#231f20" >OTUD6B</text>
<text x="197.40" y="462.30" font-size="11.9" text-anchor="start" fill="#231f20" >36 kDa</text>
<text x="80.20" y="488.10" font-size="8.3" text-anchor="middle" fill="#231f20" >1</text>
<text x="110.30" y="488.10" font-size="8.3" text-anchor="middle" fill="#231f20" >2.48</text>
<text x="140.20" y="488.10" font-size="8.3" text-anchor="middle" fill="#231f20" >3.5</text>
<text x="172.00" y="488.10" font-size="8.3" text-anchor="middle" fill="#231f20" >3.74</text>
<defs><linearGradient id="gE2" x1="0" y1="0" x2="0" y2="1"><stop offset="0" stop-color="#ececec"/><stop offset="1" stop-color="#f4f4f4"/></linearGradient></defs>
<rect x="54.00" y="491.30" width="139.50" height="35.30" fill="url(#gE2)" />
<rect x="168.00" y="492.00" width="14.00" height="8.00" rx="4.00" fill="#000" fill-opacity="0.07" filter="url(#bl20)"/>
<rect x="63.20" y="506.50" width="34.30" height="9.00" rx="4.50" fill="#000" fill-opacity="1.0" filter="url(#bl10)"/>
<rect x="63.20" y="506.60" width="16.80" height="9.60" rx="4.80" fill="#000" fill-opacity="1.0" filter="url(#bl10)"/>
<rect x="94.00" y="508.30" width="32.60" height="5.40" rx="2.70" fill="#000" fill-opacity="1.0" filter="url(#bl10)"/>
<rect x="129.70" y="507.60" width="20.30" height="4.00" rx="2.00" fill="#000" fill-opacity="0.72" filter="url(#bl13)"/>
<rect x="140.00" y="508.00" width="24.40" height="3.60" rx="1.80" fill="#000" fill-opacity="0.5" filter="url(#bl13)"/>
<rect x="166.00" y="505.10" width="17.20" height="7.20" rx="3.60" fill="#000" fill-opacity="1.0" filter="url(#bl10)"/>
<rect x="54" y="491.3" width="139.5" height="35.3" fill="none" stroke="#231f20" stroke-width="1.4"/>
<text x="8.00" y="514.00" font-size="12.0" text-anchor="start" fill="#231f20" >β-actin</text>
<text x="197.00" y="514.00" font-size="11.9" text-anchor="start" fill="#231f20" >42 kDa</text>
<text x="255.30" y="422.60" font-size="13.4" text-anchor="start" font-weight="bold" fill="#231f20" >G</text>
<text x="392.20" y="411.80" font-size="7.72" text-anchor="middle" font-weight="bold" fill="#231f20" >OTUD6B (COAD)</text>
<rect x="295.7" y="420.5" width="175.6" height="147.0" fill="none" stroke="#231f20" stroke-width="1"/>
<line x1="292.00" y1="562.10" x2="295.70" y2="562.10" stroke="#231f20" stroke-width="0.9" />
<text transform="translate(288.60,562.10) rotate(-90)" x="0" y="0" font-size="9.0" text-anchor="middle" textLength="11.20" lengthAdjust="spacingAndGlyphs" fill="#231f20">0.0</text>
<line x1="292.00" y1="534.40" x2="295.70" y2="534.40" stroke="#231f20" stroke-width="0.9" />
<text transform="translate(288.60,534.40) rotate(-90)" x="0" y="0" font-size="9.0" text-anchor="middle" textLength="11.20" lengthAdjust="spacingAndGlyphs" fill="#231f20">0.2</text>
<line x1="292.00" y1="506.70" x2="295.70" y2="506.70" stroke="#231f20" stroke-width="0.9" />
<text transform="translate(288.60,506.70) rotate(-90)" x="0" y="0" font-size="9.0" text-anchor="middle" textLength="11.20" lengthAdjust="spacingAndGlyphs" fill="#231f20">0.4</text>
<line x1="292.00" y1="479.00" x2="295.70" y2="479.00" stroke="#231f20" stroke-width="0.9" />
<text transform="translate(288.60,479.00) rotate(-90)" x="0" y="0" font-size="9.0" text-anchor="middle" textLength="11.20" lengthAdjust="spacingAndGlyphs" fill="#231f20">0.6</text>
<line x1="292.00" y1="451.30" x2="295.70" y2="451.30" stroke="#231f20" stroke-width="0.9" />
<text transform="translate(288.60,451.30) rotate(-90)" x="0" y="0" font-size="9.0" text-anchor="middle" textLength="11.20" lengthAdjust="spacingAndGlyphs" fill="#231f20">0.8</text>
<line x1="292.00" y1="423.60" x2="295.70" y2="423.60" stroke="#231f20" stroke-width="0.9" />
<text transform="translate(288.60,423.60) rotate(-90)" x="0" y="0" font-size="9.0" text-anchor="middle" textLength="11.20" lengthAdjust="spacingAndGlyphs" fill="#231f20">1.0</text>
<line x1="302.20" y1="567.50" x2="302.20" y2="571.40" stroke="#231f20" stroke-width="0.9" />
<text x="302.20" y="579.40" font-size="8.0" text-anchor="middle" fill="#231f20" >0</text>
<line x1="342.57" y1="567.50" x2="342.57" y2="571.40" stroke="#231f20" stroke-width="0.9" />
<text x="342.57" y="579.40" font-size="8.0" text-anchor="middle" fill="#231f20" >50</text>
<line x1="382.95" y1="567.50" x2="382.95" y2="571.40" stroke="#231f20" stroke-width="0.9" />
<text x="382.95" y="579.40" font-size="8.0" text-anchor="middle" fill="#231f20" >100</text>
<line x1="423.32" y1="567.50" x2="423.32" y2="571.40" stroke="#231f20" stroke-width="0.9" />
<text x="423.32" y="579.40" font-size="8.0" text-anchor="middle" fill="#231f20" >150</text>
<line x1="463.70" y1="567.50" x2="463.70" y2="571.40" stroke="#231f20" stroke-width="0.9" />
<text x="463.70" y="579.40" font-size="8.0" text-anchor="middle" fill="#231f20" >200</text>
<text x="383.60" y="591.00" font-size="7.9" text-anchor="middle" fill="#231f20" >Time (months)</text>
<text transform="translate(274.50,493.50) rotate(-90)" x="0" y="0" font-size="7.8" text-anchor="middle" fill="#231f20">Probability</text>
<text x="467.40" y="431.40" font-size="7.8" text-anchor="end" fill="#231f20" >HR = 0.7 (0.56 − 0.87)</text>
<text x="467.40" y="441.10" font-size="7.8" text-anchor="end" fill="#231f20" >logrank P = 0.0013</text>
<polyline points="301.6,426.9 306.7,435.4 311.1,442.7 315.4,450.8 319.8,458.1 325.7,462.4 333.0,466.8 340.3,470.2 350.5,472.2 360.7,473.4 396.0,473.6" fill="none" stroke="#000" stroke-width="3.4" stroke-linejoin="round"/>
<polyline points="396.0,473.6 398.5,476.5 400.0,477.2 465.8,477.2" fill="none" stroke="#000" stroke-width="1.0" stroke-linejoin="round"/>
<polyline points="301.6,424.5 305.2,428.4 309.6,434.0 315.4,441.3 321.3,447.1 328.6,452.2 336.6,456.1 344.6,457.0 357.8,457.3 363.6,459.5 370.9,462.4 376.8,464.6 379.7,466.8" fill="none" stroke="#e3271e" stroke-width="3.4" stroke-linejoin="round"/>
<polyline points="379.7,466.8 459.0,466.8" fill="none" stroke="#e3271e" stroke-width="1.0" stroke-linejoin="round"/>
<line x1="379.00" y1="464.90" x2="379.00" y2="468.70" stroke="#e3271e" stroke-width="1.3" />
<line x1="380.50" y1="464.90" x2="380.50" y2="468.70" stroke="#e3271e" stroke-width="1.3" />
<line x1="382.00" y1="464.90" x2="382.00" y2="468.70" stroke="#e3271e" stroke-width="1.3" />
<line x1="383.50" y1="464.90" x2="383.50" y2="468.70" stroke="#e3271e" stroke-width="1.3" />
<line x1="385.00" y1="464.90" x2="385.00" y2="468.70" stroke="#e3271e" stroke-width="1.3" />
<line x1="386.50" y1="464.90" x2="386.50" y2="468.70" stroke="#e3271e" stroke-width="1.3" />
<line x1="388.00" y1="464.90" x2="388.00" y2="468.70" stroke="#e3271e" stroke-width="1.3" />
<line x1="389.50" y1="464.90" x2="389.50" y2="468.70" stroke="#e3271e" stroke-width="1.3" />
<line x1="391.00" y1="464.90" x2="391.00" y2="468.70" stroke="#e3271e" stroke-width="1.3" />
<line x1="392.50" y1="464.90" x2="392.50" y2="468.70" stroke="#e3271e" stroke-width="1.3" />
<line x1="396.00" y1="464.90" x2="396.00" y2="468.70" stroke="#e3271e" stroke-width="1.3" />
<line x1="397.50" y1="464.90" x2="397.50" y2="468.70" stroke="#e3271e" stroke-width="1.3" />
<line x1="399.00" y1="464.90" x2="399.00" y2="468.70" stroke="#e3271e" stroke-width="1.3" />
<line x1="403.50" y1="464.90" x2="403.50" y2="468.70" stroke="#e3271e" stroke-width="1.3" />
<line x1="405.00" y1="464.90" x2="405.00" y2="468.70" stroke="#e3271e" stroke-width="1.3" />
<line x1="408.50" y1="464.90" x2="408.50" y2="468.70" stroke="#e3271e" stroke-width="1.3" />
<line x1="410.50" y1="464.90" x2="410.50" y2="468.70" stroke="#e3271e" stroke-width="1.3" />
<line x1="414.00" y1="464.90" x2="414.00" y2="468.70" stroke="#e3271e" stroke-width="1.3" />
<line x1="416.00" y1="464.90" x2="416.00" y2="468.70" stroke="#e3271e" stroke-width="1.3" />
<line x1="418.00" y1="464.90" x2="418.00" y2="468.70" stroke="#e3271e" stroke-width="1.3" />
<line x1="420.50" y1="464.90" x2="420.50" y2="468.70" stroke="#e3271e" stroke-width="1.3" />
<line x1="441.50" y1="465.00" x2="441.50" y2="468.60" stroke="#e3271e" stroke-width="0.9" />
<line x1="450.00" y1="465.00" x2="450.00" y2="468.60" stroke="#e3271e" stroke-width="0.9" />
<line x1="457.60" y1="465.00" x2="457.60" y2="468.60" stroke="#e3271e" stroke-width="0.9" />
<line x1="381.70" y1="471.80" x2="381.70" y2="475.60" stroke="#000" stroke-width="1.3" />
<line x1="383.20" y1="471.80" x2="383.20" y2="475.60" stroke="#000" stroke-width="1.3" />
<line x1="384.60" y1="471.80" x2="384.60" y2="475.60" stroke="#000" stroke-width="1.3" />
<line x1="386.00" y1="471.80" x2="386.00" y2="475.60" stroke="#000" stroke-width="1.3" />
<line x1="387.50" y1="471.80" x2="387.50" y2="475.60" stroke="#000" stroke-width="1.3" />
<line x1="389.70" y1="471.80" x2="389.70" y2="475.60" stroke="#000" stroke-width="1.3" />
<line x1="391.00" y1="471.80" x2="391.00" y2="475.60" stroke="#000" stroke-width="1.3" />
<line x1="392.30" y1="471.80" x2="392.30" y2="475.60" stroke="#000" stroke-width="1.3" />
<line x1="393.40" y1="471.80" x2="393.40" y2="475.60" stroke="#000" stroke-width="1.3" />
<line x1="401.40" y1="475.30" x2="401.40" y2="479.10" stroke="#000" stroke-width="1.2" />
<line x1="404.50" y1="475.30" x2="404.50" y2="479.10" stroke="#000" stroke-width="1.2" />
<line x1="406.00" y1="475.30" x2="406.00" y2="479.10" stroke="#000" stroke-width="1.2" />
<line x1="407.50" y1="475.30" x2="407.50" y2="479.10" stroke="#000" stroke-width="1.2" />
<line x1="409.00" y1="475.30" x2="409.00" y2="479.10" stroke="#000" stroke-width="1.2" />
<line x1="411.60" y1="475.30" x2="411.60" y2="479.10" stroke="#000" stroke-width="1.2" />
<line x1="415.30" y1="475.30" x2="415.30" y2="479.10" stroke="#000" stroke-width="1.2" />
<line x1="416.70" y1="475.30" x2="416.70" y2="479.10" stroke="#000" stroke-width="1.2" />
<line x1="418.90" y1="475.30" x2="418.90" y2="479.10" stroke="#000" stroke-width="1.2" />
<line x1="420.40" y1="475.30" x2="420.40" y2="479.10" stroke="#000" stroke-width="1.2" />
<line x1="426.20" y1="475.30" x2="426.20" y2="479.10" stroke="#000" stroke-width="1.2" />
<line x1="429.90" y1="475.30" x2="429.90" y2="479.10" stroke="#000" stroke-width="1.2" />
<line x1="434.20" y1="475.30" x2="434.20" y2="479.10" stroke="#000" stroke-width="1.2" />
<line x1="437.90" y1="475.30" x2="437.90" y2="479.10" stroke="#000" stroke-width="1.2" />
<line x1="450.00" y1="475.40" x2="450.00" y2="479.00" stroke="#000" stroke-width="0.9" />
<line x1="464.90" y1="475.40" x2="464.90" y2="479.00" stroke="#000" stroke-width="0.9" />
<text x="299.80" y="541.60" font-size="7.8" text-anchor="start" fill="#231f20" >Expression</text>
<line x1="302.00" y1="550.20" x2="317.00" y2="550.20" stroke="#000" stroke-width="0.9" />
<line x1="302.00" y1="559.00" x2="317.00" y2="559.00" stroke="#e3271e" stroke-width="0.9" />
<text x="324.00" y="553.30" font-size="7.8" text-anchor="start" fill="#231f20" >low</text>
<text x="324.00" y="561.80" font-size="7.8" text-anchor="start" fill="#231f20" >high</text>
<text x="296.10" y="597.90" font-size="5.2" text-anchor="start" fill="#231f20" >Number at risk</text>
<text x="288.60" y="604.80" font-size="5.4" text-anchor="end" fill="#231f20" >low</text>
<text x="288.60" y="611.20" font-size="5.5" text-anchor="end" fill="#e3271e" >high</text>
<text x="302.20" y="604.80" font-size="5.5" text-anchor="middle" fill="#231f20" >553</text>
<text x="302.20" y="611.20" font-size="5.5" text-anchor="middle" fill="#e3271e" >620</text>
<text x="342.57" y="604.80" font-size="5.5" text-anchor="middle" fill="#231f20" >238</text>
<text x="342.57" y="611.20" font-size="5.5" text-anchor="middle" fill="#e3271e" >248</text>
<text x="382.95" y="604.80" font-size="5.5" text-anchor="middle" fill="#231f20" >46</text>
<text x="382.95" y="611.20" font-size="5.5" text-anchor="middle" fill="#e3271e" >46</text>
<text x="423.32" y="604.80" font-size="5.5" text-anchor="middle" fill="#231f20" >8</text>
<text x="423.32" y="611.20" font-size="5.5" text-anchor="middle" fill="#e3271e" >3</text>
<text x="463.70" y="604.80" font-size="5.5" text-anchor="middle" fill="#231f20" >1</text>
<text x="463.70" y="611.20" font-size="5.5" text-anchor="middle" fill="#e3271e" >0</text>
<text x="600.40" y="412.00" font-size="7.72" text-anchor="middle" font-weight="bold" fill="#231f20" >OTUD6B (READ)</text>
<rect x="508.5" y="421.2" width="174.9" height="146.9" fill="none" stroke="#231f20" stroke-width="1"/>
<line x1="504.80" y1="562.80" x2="508.50" y2="562.80" stroke="#231f20" stroke-width="0.9" />
<text transform="translate(501.40,562.80) rotate(-90)" x="0" y="0" font-size="9.0" text-anchor="middle" textLength="11.20" lengthAdjust="spacingAndGlyphs" fill="#231f20">0.0</text>
<line x1="504.80" y1="535.70" x2="508.50" y2="535.70" stroke="#231f20" stroke-width="0.9" />
<text transform="translate(501.40,535.70) rotate(-90)" x="0" y="0" font-size="9.0" text-anchor="middle" textLength="11.20" lengthAdjust="spacingAndGlyphs" fill="#231f20">0.2</text>
<line x1="504.80" y1="508.60" x2="508.50" y2="508.60" stroke="#231f20" stroke-width="0.9" />
<text transform="translate(501.40,508.60) rotate(-90)" x="0" y="0" font-size="9.0" text-anchor="middle" textLength="11.20" lengthAdjust="spacingAndGlyphs" fill="#231f20">0.4</text>
<line x1="504.80" y1="481.50" x2="508.50" y2="481.50" stroke="#231f20" stroke-width="0.9" />
<text transform="translate(501.40,481.50) rotate(-90)" x="0" y="0" font-size="9.0" text-anchor="middle" textLength="11.20" lengthAdjust="spacingAndGlyphs" fill="#231f20">0.6</text>
<line x1="504.80" y1="454.40" x2="508.50" y2="454.40" stroke="#231f20" stroke-width="0.9" />
<text transform="translate(501.40,454.40) rotate(-90)" x="0" y="0" font-size="9.0" text-anchor="middle" textLength="11.20" lengthAdjust="spacingAndGlyphs" fill="#231f20">0.8</text>
<line x1="504.80" y1="427.30" x2="508.50" y2="427.30" stroke="#231f20" stroke-width="0.9" />
<text transform="translate(501.40,427.30) rotate(-90)" x="0" y="0" font-size="9.0" text-anchor="middle" textLength="11.20" lengthAdjust="spacingAndGlyphs" fill="#231f20">1.0</text>
<line x1="515.30" y1="568.10" x2="515.30" y2="572.00" stroke="#231f20" stroke-width="0.9" />
<text x="515.30" y="579.70" font-size="8.0" text-anchor="middle" fill="#231f20" >0</text>
<line x1="539.95" y1="568.10" x2="539.95" y2="572.00" stroke="#231f20" stroke-width="0.9" />
<text x="539.95" y="579.70" font-size="8.0" text-anchor="middle" fill="#231f20" >20</text>
<line x1="564.60" y1="568.10" x2="564.60" y2="572.00" stroke="#231f20" stroke-width="0.9" />
<text x="564.60" y="579.70" font-size="8.0" text-anchor="middle" fill="#231f20" >40</text>
<line x1="589.25" y1="568.10" x2="589.25" y2="572.00" stroke="#231f20" stroke-width="0.9" />
<text x="589.25" y="579.70" font-size="8.0" text-anchor="middle" fill="#231f20" >60</text>
<line x1="613.90" y1="568.10" x2="613.90" y2="572.00" stroke="#231f20" stroke-width="0.9" />
<text x="613.90" y="579.70" font-size="8.0" text-anchor="middle" fill="#231f20" >80</text>
<line x1="638.55" y1="568.10" x2="638.55" y2="572.00" stroke="#231f20" stroke-width="0.9" />
<text x="638.55" y="579.70" font-size="8.0" text-anchor="middle" fill="#231f20" >100</text>
<line x1="663.20" y1="568.10" x2="663.20" y2="572.00" stroke="#231f20" stroke-width="0.9" />
<text x="663.20" y="579.70" font-size="8.0" text-anchor="middle" fill="#231f20" >120</text>
<text x="596.10" y="591.30" font-size="7.9" text-anchor="middle" fill="#231f20" >Time (months)</text>
<text transform="translate(487.50,495.00) rotate(-90)" x="0" y="0" font-size="7.8" text-anchor="middle" fill="#231f20">Probability</text>
<text x="680.20" y="432.10" font-size="7.8" text-anchor="end" fill="#231f20" >HR = 0.22 (0.07 − 0.64)</text>
<text x="680.20" y="442.00" font-size="7.8" text-anchor="end" fill="#231f20" >logrank P = 0.0028</text>
<path d="M515.30,427.30 H519.74 V428.93 H521.46 V430.69 H528.86 V431.91 H559.42 V439.36 H567.06 V448.03 H673.80 V448.03" fill="none" stroke="#d2506e" stroke-width="1.1"/>
<path d="M515.30,427.30 H516.53 V428.65 H517.89 V431.09 H522.08 V431.70 H527.50 V432.86 H528.86 V434.07 H529.84 V435.16 H531.32 V436.11 H532.68 V436.92 H534.40 V438.14 H536.25 V439.36 H537.48 V441.12 H538.59 V442.75 H539.70 V444.91 H540.94 V446.95 H543.15 V448.57 H544.39 V450.61 H545.62 V452.71 H546.73 V453.86 H555.36 V455.75 H557.20 V457.38 H560.16 V459.14 H563.12 V461.45 H565.34 V467.27 H570.27 V475.00 H574.83 V483.94 H579.88 V523.50 H587.40 V543.15 H676.76 V543.15" fill="none" stroke="#000" stroke-width="1.2"/>
<line x1="515.30" y1="425.10" x2="515.30" y2="429.50" stroke="#d2506e" stroke-width="0.9" />
<line x1="517.15" y1="425.10" x2="517.15" y2="429.50" stroke="#d2506e" stroke-width="0.9" />
<line x1="519.00" y1="425.10" x2="519.00" y2="429.50" stroke="#d2506e" stroke-width="0.9" />
<line x1="521.46" y1="428.49" x2="521.46" y2="432.89" stroke="#d2506e" stroke-width="0.9" />
<line x1="523.93" y1="428.49" x2="523.93" y2="432.89" stroke="#d2506e" stroke-width="0.9" />
<line x1="526.39" y1="428.49" x2="526.39" y2="432.89" stroke="#d2506e" stroke-width="0.9" />
<line x1="528.98" y1="429.71" x2="528.98" y2="434.11" stroke="#d2506e" stroke-width="0.9" />
<line x1="532.55" y1="429.71" x2="532.55" y2="434.11" stroke="#d2506e" stroke-width="0.9" />
<line x1="535.39" y1="429.71" x2="535.39" y2="434.11" stroke="#d2506e" stroke-width="0.9" />
<line x1="540.69" y1="429.71" x2="540.69" y2="434.11" stroke="#d2506e" stroke-width="0.9" />
<line x1="545.99" y1="429.71" x2="545.99" y2="434.11" stroke="#d2506e" stroke-width="0.9" />
<line x1="547.10" y1="429.71" x2="547.10" y2="434.11" stroke="#d2506e" stroke-width="0.9" />
<line x1="548.33" y1="429.71" x2="548.33" y2="434.11" stroke="#d2506e" stroke-width="0.9" />
<line x1="549.32" y1="429.71" x2="549.32" y2="434.11" stroke="#d2506e" stroke-width="0.9" />
<line x1="550.06" y1="429.71" x2="550.06" y2="434.11" stroke="#d2506e" stroke-width="0.9" />
<line x1="554.12" y1="429.71" x2="554.12" y2="434.11" stroke="#d2506e" stroke-width="0.9" />
<line x1="554.99" y1="429.71" x2="554.99" y2="434.11" stroke="#d2506e" stroke-width="0.9" />
<line x1="555.97" y1="429.71" x2="555.97" y2="434.11" stroke="#d2506e" stroke-width="0.9" />
<line x1="557.08" y1="429.71" x2="557.08" y2="434.11" stroke="#d2506e" stroke-width="0.9" />
<line x1="561.64" y1="437.16" x2="561.64" y2="441.56" stroke="#d2506e" stroke-width="0.9" />
<line x1="568.05" y1="445.83" x2="568.05" y2="450.23" stroke="#d2506e" stroke-width="0.9" />
<line x1="569.90" y1="445.83" x2="569.90" y2="450.23" stroke="#d2506e" stroke-width="0.9" />
<line x1="571.63" y1="445.83" x2="571.63" y2="450.23" stroke="#d2506e" stroke-width="0.9" />
<line x1="573.35" y1="445.83" x2="573.35" y2="450.23" stroke="#d2506e" stroke-width="0.9" />
<line x1="574.58" y1="445.83" x2="574.58" y2="450.23" stroke="#d2506e" stroke-width="0.9" />
<line x1="578.28" y1="445.83" x2="578.28" y2="450.23" stroke="#d2506e" stroke-width="0.9" />
<line x1="580.38" y1="445.83" x2="580.38" y2="450.23" stroke="#d2506e" stroke-width="0.9" />
<line x1="584.44" y1="445.83" x2="584.44" y2="450.23" stroke="#d2506e" stroke-width="0.9" />
<line x1="593.19" y1="445.83" x2="593.19" y2="450.23" stroke="#d2506e" stroke-width="0.9" />
<line x1="597.14" y1="445.83" x2="597.14" y2="450.23" stroke="#d2506e" stroke-width="0.9" />
<line x1="612.79" y1="445.83" x2="612.79" y2="450.23" stroke="#d2506e" stroke-width="0.9" />
<line x1="623.64" y1="445.83" x2="623.64" y2="450.23" stroke="#d2506e" stroke-width="0.9" />
<line x1="661.97" y1="445.83" x2="661.97" y2="450.23" stroke="#d2506e" stroke-width="0.9" />
<line x1="673.80" y1="445.83" x2="673.80" y2="450.23" stroke="#d2506e" stroke-width="0.9" />
<line x1="519.00" y1="428.89" x2="519.00" y2="433.29" stroke="#000" stroke-width="1.0" />
<line x1="521.46" y1="428.89" x2="521.46" y2="433.29" stroke="#000" stroke-width="1.0" />
<line x1="523.93" y1="429.50" x2="523.93" y2="433.90" stroke="#000" stroke-width="1.0" />
<line x1="525.16" y1="429.50" x2="525.16" y2="433.90" stroke="#000" stroke-width="1.0" />
<line x1="528.24" y1="430.66" x2="528.24" y2="435.06" stroke="#000" stroke-width="1.0" />
<line x1="530.71" y1="432.96" x2="530.71" y2="437.36" stroke="#000" stroke-width="1.0" />
<line x1="531.94" y1="433.91" x2="531.94" y2="438.31" stroke="#000" stroke-width="1.0" />
<line x1="533.79" y1="434.72" x2="533.79" y2="439.12" stroke="#000" stroke-width="1.0" />
<line x1="535.02" y1="435.94" x2="535.02" y2="440.34" stroke="#000" stroke-width="1.0" />
<line x1="538.10" y1="438.92" x2="538.10" y2="443.32" stroke="#000" stroke-width="1.0" />
<line x1="539.95" y1="442.71" x2="539.95" y2="447.11" stroke="#000" stroke-width="1.0" />
<line x1="541.80" y1="444.75" x2="541.80" y2="449.15" stroke="#000" stroke-width="1.0" />
<line x1="543.65" y1="446.37" x2="543.65" y2="450.77" stroke="#000" stroke-width="1.0" />
<line x1="547.10" y1="451.66" x2="547.10" y2="456.06" stroke="#000" stroke-width="1.0" />
<line x1="548.58" y1="451.66" x2="548.58" y2="456.06" stroke="#000" stroke-width="1.0" />
<line x1="550.43" y1="451.66" x2="550.43" y2="456.06" stroke="#000" stroke-width="1.0" />
<line x1="551.66" y1="451.66" x2="551.66" y2="456.06" stroke="#000" stroke-width="1.0" />
<line x1="553.51" y1="451.66" x2="553.51" y2="456.06" stroke="#000" stroke-width="1.0" />
<line x1="555.97" y1="453.55" x2="555.97" y2="457.95" stroke="#000" stroke-width="1.0" />
<line x1="558.44" y1="455.18" x2="558.44" y2="459.58" stroke="#000" stroke-width="1.0" />
<line x1="560.90" y1="456.94" x2="560.90" y2="461.34" stroke="#000" stroke-width="1.0" />
<line x1="563.37" y1="459.25" x2="563.37" y2="463.65" stroke="#000" stroke-width="1.0" />
<line x1="567.06" y1="465.07" x2="567.06" y2="469.47" stroke="#000" stroke-width="1.0" />
<line x1="568.91" y1="465.07" x2="568.91" y2="469.47" stroke="#000" stroke-width="1.0" />
<line x1="571.99" y1="472.80" x2="571.99" y2="477.20" stroke="#000" stroke-width="1.0" />
<line x1="573.23" y1="472.80" x2="573.23" y2="477.20" stroke="#000" stroke-width="1.0" />
<line x1="576.31" y1="481.74" x2="576.31" y2="486.14" stroke="#000" stroke-width="1.0" />
<line x1="577.54" y1="481.74" x2="577.54" y2="486.14" stroke="#000" stroke-width="1.0" />
<line x1="578.77" y1="481.74" x2="578.77" y2="486.14" stroke="#000" stroke-width="1.0" />
<path d="M674.91,540.95 L677.00,543.15 L674.91,545.35 Z" fill="#000"/>
<text x="512.60" y="543.30" font-size="7.8" text-anchor="start" fill="#231f20" >Expression</text>
<line x1="515.30" y1="551.00" x2="530.20" y2="551.00" stroke="#000" stroke-width="0.9" />
<line x1="515.30" y1="559.30" x2="530.20" y2="559.30" stroke="#d2506e" stroke-width="0.9" />
<text x="536.60" y="554.00" font-size="7.8" text-anchor="start" fill="#231f20" >low</text>
<text x="536.60" y="562.30" font-size="7.8" text-anchor="start" fill="#231f20" >high</text>
<text x="508.90" y="597.90" font-size="5.2" text-anchor="start" fill="#231f20" >Number at risk</text>
<text x="501.80" y="604.80" font-size="5.5" text-anchor="end" fill="#231f20" >low</text>
<text x="501.80" y="611.20" font-size="5.5" text-anchor="end" fill="#d2506e" >high</text>
<text x="515.30" y="604.80" font-size="5.5" text-anchor="middle" fill="#231f20" >110</text>
<text x="515.30" y="611.20" font-size="5.5" text-anchor="middle" fill="#d2506e" >55</text>
<text x="539.95" y="604.80" font-size="5.5" text-anchor="middle" fill="#231f20" >53</text>
<text x="539.95" y="611.20" font-size="5.5" text-anchor="middle" fill="#d2506e" >37</text>
<text x="564.60" y="604.80" font-size="5.5" text-anchor="middle" fill="#231f20" >15</text>
<text x="564.60" y="611.20" font-size="5.5" text-anchor="middle" fill="#d2506e" >14</text>
<text x="589.25" y="604.80" font-size="5.5" text-anchor="middle" fill="#231f20" >1</text>
<text x="589.25" y="611.20" font-size="5.5" text-anchor="middle" fill="#d2506e" >6</text>
<text x="613.90" y="604.80" font-size="5.5" text-anchor="middle" fill="#231f20" >1</text>
<text x="613.90" y="611.20" font-size="5.5" text-anchor="middle" fill="#d2506e" >3</text>
<text x="638.55" y="604.80" font-size="5.5" text-anchor="middle" fill="#231f20" >1</text>
<text x="638.55" y="611.20" font-size="5.5" text-anchor="middle" fill="#d2506e" >2</text>
<text x="663.20" y="604.80" font-size="5.5" text-anchor="middle" fill="#231f20" >1</text>
<text x="663.20" y="611.20" font-size="5.5" text-anchor="middle" fill="#d2506e" >1</text>
<text x="4.90" y="608.30" font-size="13.6" text-anchor="start" font-weight="bold" fill="#231f20" >F</text>
<text x="22.20" y="630.20" font-size="13.2" text-anchor="start" font-weight="bold" fill="#231f20" >colorectum</text>
<text x="71.00" y="648.70" font-size="11.1" text-anchor="middle" fill="#231f20" >N1</text>
<text x="95.90" y="648.70" font-size="11.1" text-anchor="middle" fill="#231f20" >T1</text>
<text x="121.30" y="648.70" font-size="11.1" text-anchor="middle" fill="#231f20" >N2</text>
<text x="146.30" y="648.70" font-size="11.1" text-anchor="middle" fill="#231f20" >T2</text>
<text x="174.90" y="648.70" font-size="11.1" text-anchor="middle" fill="#231f20" >N3</text>
<text x="200.30" y="648.70" font-size="11.1" text-anchor="middle" fill="#231f20" >T3</text>
<text x="224.80" y="648.70" font-size="11.1" text-anchor="middle" fill="#231f20" >N4</text>
<text x="247.50" y="648.70" font-size="11.1" text-anchor="middle" fill="#231f20" >T4</text>
<text x="271.60" y="648.70" font-size="11.1" text-anchor="middle" fill="#231f20" >N5</text>
<text x="295.80" y="648.70" font-size="11.1" text-anchor="middle" fill="#231f20" >T5</text>
<text x="321.50" y="648.70" font-size="11.1" text-anchor="middle" fill="#231f20" >N6</text>
<text x="349.80" y="648.70" font-size="11.1" text-anchor="middle" fill="#231f20" >T6</text>
<text x="383.90" y="648.70" font-size="11.1" text-anchor="middle" fill="#231f20" >N7</text>
<text x="409.30" y="648.70" font-size="11.1" text-anchor="middle" fill="#231f20" >T7</text>
<text x="434.60" y="648.70" font-size="11.1" text-anchor="middle" fill="#231f20" >N8</text>
<text x="456.50" y="648.70" font-size="11.1" text-anchor="middle" fill="#231f20" >T8</text>
<text x="481.00" y="648.70" font-size="11.1" text-anchor="middle" fill="#231f20" >N9</text>
<text x="506.00" y="648.70" font-size="11.1" text-anchor="middle" fill="#231f20" >T9</text>
<defs><linearGradient id="gF1a" x1="0" y1="0" x2="0" y2="1"><stop offset="0" stop-color="#b2b2b2"/><stop offset="1" stop-color="#c6c6c6"/></linearGradient><linearGradient id="gF1b" x1="0" y1="0" x2="0" y2="1"><stop offset="0" stop-color="#c0c0c0"/><stop offset="1" stop-color="#d0d0d0"/></linearGradient></defs>
<rect x="53.60" y="652.30" width="311.70" height="25.90" fill="url(#gF1a)" />
<rect x="365.30" y="652.30" width="156.10" height="25.90" fill="url(#gF1b)" />
<rect x="364.70" y="652.30" width="2.20" height="25.90" fill="#e6e6e6" />
<rect x="81.00" y="653.30" width="4.00" height="23.90" fill="#d4d4d4" fill-opacity="0.5" filter="url(#bl15)"/>
<rect x="107.50" y="653.30" width="4.00" height="23.90" fill="#d4d4d4" fill-opacity="0.5" filter="url(#bl15)"/>
<rect x="130.00" y="653.30" width="4.00" height="23.90" fill="#d4d4d4" fill-opacity="0.5" filter="url(#bl15)"/>
<rect x="158.00" y="653.30" width="4.00" height="23.90" fill="#d4d4d4" fill-opacity="0.5" filter="url(#bl15)"/>
<rect x="182.00" y="653.30" width="4.00" height="23.90" fill="#d4d4d4" fill-opacity="0.5" filter="url(#bl15)"/>
<rect x="207.00" y="653.30" width="4.00" height="23.90" fill="#d4d4d4" fill-opacity="0.5" filter="url(#bl15)"/>
<rect x="233.00" y="653.30" width="4.00" height="23.90" fill="#d4d4d4" fill-opacity="0.5" filter="url(#bl15)"/>
<rect x="256.00" y="653.30" width="4.00" height="23.90" fill="#d4d4d4" fill-opacity="0.5" filter="url(#bl15)"/>
<rect x="282.00" y="653.30" width="4.00" height="23.90" fill="#d4d4d4" fill-opacity="0.5" filter="url(#bl15)"/>
<rect x="308.00" y="653.30" width="4.00" height="23.90" fill="#d4d4d4" fill-opacity="0.5" filter="url(#bl15)"/>
<rect x="331.00" y="653.30" width="4.00" height="23.90" fill="#d4d4d4" fill-opacity="0.5" filter="url(#bl15)"/>
<rect x="111.50" y="656.00" width="18.00" height="16.50" rx="4" fill="#000" fill-opacity="0.7" filter="url(#bl20)"/>
<rect x="162.30" y="655.00" width="18.70" height="18.00" rx="4" fill="#000" fill-opacity="0.28" filter="url(#bl20)"/>
<rect x="211.40" y="660.00" width="21.00" height="11.00" rx="4" fill="#000" fill-opacity="0.25" filter="url(#bl20)"/>
<rect x="238.30" y="655.00" width="17.70" height="17.50" rx="4" fill="#000" fill-opacity="0.72" filter="url(#bl20)"/>
<rect x="312.40" y="656.00" width="18.40" height="16.00" rx="4" fill="#000" fill-opacity="0.22" filter="url(#bl20)"/>
<rect x="473.00" y="659.00" width="16.40" height="12.00" rx="4" fill="#000" fill-opacity="0.15" filter="url(#bl20)"/>
<rect x="497.60" y="659.00" width="16.40" height="12.00" rx="4" fill="#000" fill-opacity="0.2" filter="url(#bl20)"/>
<rect x="59.00" y="661.10" width="21.20" height="11.40" rx="5.70" fill="#000" fill-opacity="0.25" filter="url(#bl20)"/>
<rect x="60.00" y="662.30" width="19.20" height="9.00" rx="4.50" fill="#000" fill-opacity="1.0" filter="url(#bl8)"/>
<rect x="83.80" y="660.50" width="25.00" height="12.20" rx="6.10" fill="#000" fill-opacity="0.25" filter="url(#bl20)"/>
<rect x="84.80" y="661.70" width="23.00" height="9.80" rx="4.90" fill="#000" fill-opacity="1.0" filter="url(#bl8)"/>
<rect x="114.00" y="658.70" width="13.50" height="9.60" rx="4.50" fill="#000" fill-opacity="0.5" filter="url(#bl8)"/>
<rect x="133.80" y="661.90" width="23.20" height="11.40" rx="5.70" fill="#000" fill-opacity="0.25" filter="url(#bl20)"/>
<rect x="134.80" y="663.10" width="21.20" height="9.00" rx="4.50" fill="#000" fill-opacity="1.0" filter="url(#bl8)"/>
<rect x="185.90" y="661.80" width="22.40" height="9.80" rx="4.90" fill="#000" fill-opacity="0.25" filter="url(#bl20)"/>
<rect x="186.90" y="663.00" width="20.40" height="7.40" rx="3.70" fill="#000" fill-opacity="1.0" filter="url(#bl8)"/>
<rect x="242.00" y="659.70" width="11.00" height="8.60" rx="3.67" fill="#000" fill-opacity="0.6" filter="url(#bl8)"/>
<rect x="260.70" y="663.60" width="19.30" height="4.80" rx="2.40" fill="#000" fill-opacity="0.85" filter="url(#bl8)"/>
<rect x="287.00" y="663.00" width="20.20" height="5.00" rx="2.50" fill="#000" fill-opacity="0.85" filter="url(#bl8)"/>
<rect x="334.50" y="660.90" width="28.00" height="11.40" rx="5.70" fill="#000" fill-opacity="0.25" filter="url(#bl20)"/>
<rect x="335.50" y="662.10" width="26.00" height="9.00" rx="4.50" fill="#000" fill-opacity="1.0" filter="url(#bl8)"/>
<rect x="370.00" y="659.80" width="25.80" height="10.80" rx="5.40" fill="#000" fill-opacity="0.25" filter="url(#bl20)"/>
<rect x="371.00" y="661.00" width="23.80" height="8.40" rx="4.20" fill="#000" fill-opacity="1.0" filter="url(#bl8)"/>
<rect x="397.00" y="660.70" width="21.30" height="9.60" rx="4.80" fill="#000" fill-opacity="0.25" filter="url(#bl20)"/>
<rect x="398.00" y="661.90" width="19.30" height="7.20" rx="3.60" fill="#000" fill-opacity="1.0" filter="url(#bl8)"/>
<rect x="448.30" y="662.30" width="21.70" height="9.40" rx="4.70" fill="#000" fill-opacity="0.25" filter="url(#bl20)"/>
<rect x="449.30" y="663.50" width="19.70" height="7.00" rx="3.50" fill="#000" fill-opacity="1.0" filter="url(#bl8)"/>
<rect x="475.00" y="663.25" width="13.00" height="4.10" rx="2.05" fill="#000" fill-opacity="0.25" filter="url(#bl8)"/>
<rect x="499.00" y="663.00" width="14.00" height="4.60" rx="2.30" fill="#000" fill-opacity="0.4" filter="url(#bl8)"/>
<path d="M423.5,664.0 C430,664.2 436,665.0 442.5,665.0 C444.5,665.5 444.5,670.5 442.5,670.8 C436,670.8 430,667.8 423.5,667.0 C422,666.5 422,664.5 423.5,664.0 Z" fill="#000" fill-opacity="0.95" filter="url(#bl9)"/>
<rect x="53.6" y="652.3" width="467.80" height="25.90" fill="none" stroke="#231f20" stroke-width="1.3"/>
<text x="0.90" y="671.00" font-size="11.9" text-anchor="start" fill="#231f20" >OTUD6B</text>
<text x="531.00" y="669.90" font-size="11.9" text-anchor="start" fill="#231f20" >36 kDa</text>
<defs><linearGradient id="gF2a" x1="0" y1="0" x2="0" y2="1"><stop offset="0" stop-color="#e2e2e2"/><stop offset="1" stop-color="#ececec"/></linearGradient><linearGradient id="gF2b" x1="0" y1="0" x2="0" y2="1"><stop offset="0" stop-color="#e6e6e6"/><stop offset="1" stop-color="#efefef"/></linearGradient></defs>
<rect x="53.60" y="683.50" width="311.70" height="25.90" fill="url(#gF2a)" />
<rect x="365.30" y="683.50" width="156.10" height="25.90" fill="url(#gF2b)" />
<rect x="364.70" y="683.50" width="2.20" height="25.90" fill="#eeeeee" />
<rect x="57.20" y="692.60" width="27.50" height="8.40" rx="4.20" fill="#000" fill-opacity="1.0" filter="url(#bl8)"/>
<rect x="82.80" y="692.20" width="27.40" height="8.80" rx="4.40" fill="#000" fill-opacity="1.0" filter="url(#bl8)"/>
<rect x="108.30" y="692.40" width="25.90" height="8.80" rx="4.40" fill="#000" fill-opacity="1.0" filter="url(#bl8)"/>
<rect x="131.80" y="692.20" width="27.40" height="8.80" rx="4.40" fill="#000" fill-opacity="1.0" filter="url(#bl8)"/>
<rect x="157.30" y="692.60" width="27.90" height="8.40" rx="4.20" fill="#000" fill-opacity="1.0" filter="url(#bl8)"/>
<rect x="183.30" y="692.20" width="24.90" height="8.40" rx="4.20" fill="#000" fill-opacity="1.0" filter="url(#bl8)"/>
<rect x="207.00" y="692.90" width="27.80" height="9.80" rx="4.90" fill="#000" fill-opacity="1.0" filter="url(#bl8)"/>
<rect x="234.10" y="693.35" width="23.50" height="7.30" rx="3.65" fill="#000" fill-opacity="1.0" filter="url(#bl8)"/>
<rect x="256.00" y="692.45" width="28.20" height="8.30" rx="4.15" fill="#000" fill-opacity="1.0" filter="url(#bl8)"/>
<rect x="281.80" y="692.20" width="27.40" height="8.80" rx="4.40" fill="#000" fill-opacity="1.0" filter="url(#bl8)"/>
<rect x="306.80" y="692.15" width="28.40" height="9.30" rx="4.65" fill="#000" fill-opacity="1.0" filter="url(#bl8)"/>
<rect x="332.80" y="691.95" width="29.00" height="9.30" rx="4.65" fill="#000" fill-opacity="1.0" filter="url(#bl8)"/>
<rect x="367.30" y="692.00" width="28.90" height="8.80" rx="4.40" fill="#000" fill-opacity="1.0" filter="url(#bl8)"/>
<rect x="393.80" y="692.60" width="27.40" height="8.80" rx="4.40" fill="#000" fill-opacity="1.0" filter="url(#bl8)"/>
<rect x="418.80" y="692.95" width="28.40" height="9.30" rx="4.65" fill="#000" fill-opacity="1.0" filter="url(#bl8)"/>
<rect x="444.80" y="692.60" width="26.40" height="8.80" rx="4.40" fill="#000" fill-opacity="1.0" filter="url(#bl8)"/>
<rect x="468.80" y="692.80" width="26.40" height="8.80" rx="4.40" fill="#000" fill-opacity="1.0" filter="url(#bl8)"/>
<rect x="492.80" y="692.20" width="25.20" height="8.80" rx="4.40" fill="#000" fill-opacity="1.0" filter="url(#bl8)"/>
<rect x="53.6" y="683.5" width="467.80" height="25.90" fill="none" stroke="#231f20" stroke-width="1.3"/>
<text x="7.90" y="701.50" font-size="12.0" text-anchor="start" fill="#231f20" >β-actin</text>
<text x="531.00" y="699.90" font-size="11.9" text-anchor="start" fill="#231f20" >42 kDa</text>
<text x="22.80" y="727.80" font-size="12.9" text-anchor="start" font-weight="bold" fill="#231f20" >liver</text>
<defs><linearGradient id="gF3a" x1="0" y1="0" x2="0" y2="1"><stop offset="0" stop-color="#cdcdcd"/><stop offset="1" stop-color="#dadada"/></linearGradient><linearGradient id="gF3b" x1="0" y1="0" x2="0" y2="1"><stop offset="0" stop-color="#d8d8d8"/><stop offset="1" stop-color="#e0e0e0"/></linearGradient></defs>
<rect x="53.60" y="728.50" width="311.70" height="25.50" fill="url(#gF3a)" />
<rect x="365.30" y="728.50" width="156.10" height="25.50" fill="url(#gF3b)" />
<rect x="364.70" y="728.50" width="2.20" height="25.50" fill="#f6f6f6" />
<rect x="84.00" y="730.00" width="21.00" height="12.00" rx="4" fill="#000" fill-opacity="0.25" filter="url(#bl20)"/>
<rect x="131.00" y="729.50" width="25.00" height="12.50" rx="4" fill="#000" fill-opacity="0.35" filter="url(#bl20)"/>
<rect x="157.00" y="731.00" width="22.00" height="11.00" rx="4" fill="#000" fill-opacity="0.12" filter="url(#bl20)"/>
<rect x="181.00" y="731.00" width="21.00" height="11.00" rx="4" fill="#000" fill-opacity="0.12" filter="url(#bl20)"/>
<rect x="206.00" y="731.00" width="21.00" height="11.00" rx="4" fill="#000" fill-opacity="0.12" filter="url(#bl20)"/>
<rect x="283.00" y="729.50" width="19.40" height="12.50" rx="4" fill="#000" fill-opacity="0.3" filter="url(#bl20)"/>
<rect x="254.00" y="736.00" width="23.00" height="12.00" rx="4" fill="#000" fill-opacity="0.1" filter="url(#bl20)"/>
<rect x="57.00" y="740.80" width="23.00" height="4.40" rx="2.20" fill="#000" fill-opacity="0.75" filter="url(#bl8)"/>
<rect x="70.50" y="740.30" width="9.50" height="5.40" rx="2.70" fill="#000" fill-opacity="1.0" filter="url(#bl8)"/>
<rect x="84.20" y="739.50" width="20.50" height="7.80" rx="3.90" fill="#000" fill-opacity="1.0" filter="url(#bl8)"/>
<rect x="109.60" y="740.90" width="17.50" height="5.00" rx="2.50" fill="#000" fill-opacity="0.8" filter="url(#bl8)"/>
<rect x="131.50" y="737.90" width="23.60" height="11.80" rx="5.90" fill="#000" fill-opacity="1.0" filter="url(#bl8)"/>
<rect x="156.90" y="740.90" width="21.50" height="8.80" rx="4.40" fill="#000" fill-opacity="1.0" filter="url(#bl8)"/>
<rect x="181.00" y="741.65" width="20.20" height="7.30" rx="3.65" fill="#000" fill-opacity="1.0" filter="url(#bl8)"/>
<rect x="205.90" y="741.00" width="20.70" height="7.60" rx="3.80" fill="#000" fill-opacity="1.0" filter="url(#bl8)"/>
<rect x="230.00" y="741.60" width="17.60" height="5.80" rx="2.90" fill="#000" fill-opacity="0.95" filter="url(#bl8)"/>
<rect x="256.00" y="740.35" width="20.00" height="4.30" rx="2.15" fill="#000" fill-opacity="0.12" filter="url(#bl8)"/>
<rect x="283.10" y="739.60" width="19.30" height="6.80" rx="3.40" fill="#000" fill-opacity="1.0" filter="url(#bl8)"/>
<rect x="308.50" y="740.70" width="21.10" height="4.40" rx="2.20" fill="#000" fill-opacity="0.7" filter="url(#bl8)"/>
<rect x="308.50" y="740.50" width="7.50" height="4.80" rx="2.40" fill="#000" fill-opacity="0.6" filter="url(#bl8)"/>
<rect x="334.00" y="739.00" width="24.50" height="7.00" rx="3.50" fill="#000" fill-opacity="1.0" filter="url(#bl8)"/>
<rect x="369.90" y="745.20" width="22.80" height="4.80" rx="2.40" fill="#000" fill-opacity="0.85" filter="url(#bl8)"/>
<rect x="382.00" y="744.80" width="10.70" height="5.60" rx="2.80" fill="#000" fill-opacity="0.9" filter="url(#bl8)"/>
<rect x="396.20" y="744.75" width="17.50" height="6.10" rx="3.05" fill="#000" fill-opacity="1.0" filter="url(#bl8)"/>
<rect x="417.20" y="744.80" width="22.90" height="6.80" rx="3.40" fill="#000" fill-opacity="1.0" filter="url(#bl8)"/>
<rect x="442.00" y="743.50" width="21.90" height="7.00" rx="3.50" fill="#000" fill-opacity="1.0" filter="url(#bl8)"/>
<rect x="464.80" y="742.80" width="22.40" height="6.80" rx="3.40" fill="#000" fill-opacity="1.0" filter="url(#bl8)"/>
<rect x="489.4" y="729" width="26.5" height="23.6" rx="6" fill="#000" filter="url(#bl10)"/>
<rect x="53.6" y="728.5" width="467.80" height="25.50" fill="none" stroke="#231f20" stroke-width="1.3"/>
<text x="0.90" y="747.10" font-size="11.9" text-anchor="start" fill="#231f20" >OTUD6B</text>
<text x="530.50" y="749.90" font-size="11.9" text-anchor="start" fill="#231f20" >36 kDa</text>
<defs><linearGradient id="gF4a" x1="0" y1="0" x2="0" y2="1"><stop offset="0" stop-color="#dedede"/><stop offset="1" stop-color="#eaeaea"/></linearGradient><linearGradient id="gF4b" x1="0" y1="0" x2="0" y2="1"><stop offset="0" stop-color="#e2e2e2"/><stop offset="1" stop-color="#ececec"/></linearGradient></defs>
<rect x="53.60" y="760.60" width="311.70" height="25.70" fill="url(#gF4a)" />
<rect x="365.30" y="760.60" width="156.10" height="25.70" fill="url(#gF4b)" />
<rect x="364.70" y="760.60" width="2.20" height="25.70" fill="#f2f2f2" />
<rect x="57.90" y="768.75" width="27.50" height="9.30" rx="4.65" fill="#000" fill-opacity="1.0" filter="url(#bl8)"/>
<rect x="83.80" y="768.00" width="26.10" height="10.80" rx="5.40" fill="#000" fill-opacity="1.0" filter="url(#bl8)"/>
<rect x="110.10" y="771.90" width="21.70" height="5.60" rx="2.80" fill="#000" fill-opacity="1.0" filter="url(#bl8)"/>
<rect x="130.30" y="768.40" width="28.90" height="12.20" rx="6.10" fill="#000" fill-opacity="1.0" filter="url(#bl8)"/>
<rect x="155.80" y="768.35" width="26.40" height="11.30" rx="5.65" fill="#000" fill-opacity="1.0" filter="url(#bl8)"/>
<rect x="179.80" y="766.60" width="27.30" height="12.20" rx="6.10" fill="#000" fill-opacity="1.0" filter="url(#bl8)"/>
<rect x="204.70" y="765.80" width="24.80" height="14.80" rx="7.40" fill="#000" fill-opacity="1.0" filter="url(#bl8)"/>
<rect x="227.10" y="766.60" width="25.20" height="12.20" rx="6.10" fill="#000" fill-opacity="1.0" filter="url(#bl8)"/>
<rect x="251.70" y="769.30" width="28.60" height="7.80" rx="3.90" fill="#000" fill-opacity="1.0" filter="url(#bl8)"/>
<rect x="280.20" y="767.20" width="26.00" height="10.80" rx="5.40" fill="#000" fill-opacity="1.0" filter="url(#bl8)"/>
<rect x="303.80" y="768.40" width="28.70" height="9.20" rx="4.60" fill="#000" fill-opacity="1.0" filter="url(#bl8)"/>
<rect x="330.10" y="767.45" width="31.30" height="11.30" rx="5.65" fill="#000" fill-opacity="1.0" filter="url(#bl8)"/>
<rect x="369.60" y="769.35" width="26.90" height="8.30" rx="4.15" fill="#000" fill-opacity="1.0" filter="url(#bl8)"/>
<rect x="394.10" y="769.80" width="24.30" height="9.00" rx="4.50" fill="#000" fill-opacity="1.0" filter="url(#bl8)"/>
<rect x="416.00" y="769.60" width="26.90" height="9.80" rx="4.90" fill="#000" fill-opacity="1.0" filter="url(#bl8)"/>
<rect x="440.50" y="769.30" width="24.30" height="8.80" rx="4.40" fill="#000" fill-opacity="1.0" filter="url(#bl8)"/>
<rect x="462.40" y="768.65" width="28.80" height="10.30" rx="5.15" fill="#000" fill-opacity="1.0" filter="url(#bl8)"/>
<rect x="487.80" y="768.65" width="30.20" height="7.30" rx="3.65" fill="#000" fill-opacity="1.0" filter="url(#bl8)"/>
<rect x="59.10" y="769.10" width="49.60" height="8.60" rx="4.30" fill="#000" fill-opacity="1.0" filter="url(#bl8)"/>
<rect x="131.50" y="768.10" width="119.60" height="10.60" rx="5.30" fill="#000" fill-opacity="1.0" filter="url(#bl8)"/>
<rect x="281.40" y="768.40" width="78.80" height="9.00" rx="4.50" fill="#000" fill-opacity="1.0" filter="url(#bl8)"/>
<rect x="370.80" y="769.80" width="119.20" height="8.20" rx="4.10" fill="#000" fill-opacity="1.0" filter="url(#bl8)"/>
<rect x="53.6" y="760.6" width="467.80" height="25.70" fill="none" stroke="#231f20" stroke-width="1.3"/>
<text x="7.90" y="775.00" font-size="12.0" text-anchor="start" fill="#231f20" >β-actin</text>
<text x="530.50" y="776.00" font-size="11.9" text-anchor="start" fill="#231f20" >42 kDa</text>
<rect x="73.70" y="888.87" width="5.10" height="38.83" fill="#8286c7" />
<rect x="80.90" y="879.55" width="5.10" height="48.15" fill="#ebb979" />
<rect x="93.45" y="888.87" width="5.10" height="38.83" fill="#8286c7" />
<rect x="100.65" y="846.55" width="5.10" height="81.15" fill="#ebb979" />
<rect x="113.20" y="888.87" width="5.10" height="38.83" fill="#8286c7" />
<rect x="120.40" y="848.49" width="5.10" height="79.21" fill="#ebb979" />
<rect x="132.95" y="888.87" width="5.10" height="38.83" fill="#8286c7" />
<rect x="140.15" y="832.57" width="5.10" height="95.13" fill="#ebb979" />
<rect x="152.70" y="888.87" width="5.10" height="38.83" fill="#8286c7" />
<rect x="159.90" y="894.69" width="5.10" height="33.01" fill="#ebb979" />
<rect x="172.45" y="888.87" width="5.10" height="38.83" fill="#8286c7" />
<rect x="179.65" y="864.80" width="5.10" height="62.90" fill="#ebb979" />
<rect x="192.20" y="888.87" width="5.10" height="38.83" fill="#8286c7" />
<rect x="199.40" y="893.92" width="5.10" height="33.78" fill="#ebb979" />
<rect x="211.95" y="888.87" width="5.10" height="38.83" fill="#8286c7" />
<rect x="219.15" y="872.17" width="5.10" height="55.53" fill="#ebb979" />
<rect x="231.70" y="888.87" width="5.10" height="38.83" fill="#8286c7" />
<rect x="238.90" y="882.66" width="5.10" height="45.04" fill="#ebb979" />
<line x1="71.70" y1="810.71" x2="71.70" y2="928.30" stroke="#231f20" stroke-width="1.3" />
<line x1="71.10" y1="927.70" x2="248.95" y2="927.70" stroke="#231f20" stroke-width="1.3" />
<line x1="68.30" y1="927.70" x2="71.70" y2="927.70" stroke="#231f20" stroke-width="1.1" />
<text x="67.30" y="930.70" font-size="8.6" text-anchor="end" font-weight="bold" fill="#231f20" >0</text>
<line x1="68.30" y1="888.87" x2="71.70" y2="888.87" stroke="#231f20" stroke-width="1.1" />
<text x="67.30" y="891.87" font-size="8.6" text-anchor="end" font-weight="bold" fill="#231f20" >1</text>
<line x1="68.30" y1="850.04" x2="71.70" y2="850.04" stroke="#231f20" stroke-width="1.1" />
<text x="67.30" y="853.04" font-size="8.6" text-anchor="end" font-weight="bold" fill="#231f20" >2</text>
<line x1="68.30" y1="811.21" x2="71.70" y2="811.21" stroke="#231f20" stroke-width="1.1" />
<text x="67.30" y="814.21" font-size="8.6" text-anchor="end" font-weight="bold" fill="#231f20" >3</text>
<line x1="79.85" y1="927.70" x2="79.85" y2="931.70" stroke="#231f20" stroke-width="1.1" />
<text x="79.85" y="941.00" font-size="8.8" text-anchor="middle" font-weight="bold" fill="#231f20" >1</text>
<line x1="99.60" y1="927.70" x2="99.60" y2="931.70" stroke="#231f20" stroke-width="1.1" />
<text x="99.60" y="941.00" font-size="8.8" text-anchor="middle" font-weight="bold" fill="#231f20" >2</text>
<line x1="119.35" y1="927.70" x2="119.35" y2="931.70" stroke="#231f20" stroke-width="1.1" />
<text x="119.35" y="941.00" font-size="8.8" text-anchor="middle" font-weight="bold" fill="#231f20" >3</text>
<line x1="139.10" y1="927.70" x2="139.10" y2="931.70" stroke="#231f20" stroke-width="1.1" />
<text x="139.10" y="941.00" font-size="8.8" text-anchor="middle" font-weight="bold" fill="#231f20" >4</text>
<line x1="158.85" y1="927.70" x2="158.85" y2="931.70" stroke="#231f20" stroke-width="1.1" />
<text x="158.85" y="941.00" font-size="8.8" text-anchor="middle" font-weight="bold" fill="#231f20" >5</text>
<line x1="178.60" y1="927.70" x2="178.60" y2="931.70" stroke="#231f20" stroke-width="1.1" />
<text x="178.60" y="941.00" font-size="8.8" text-anchor="middle" font-weight="bold" fill="#231f20" >6</text>
<line x1="198.35" y1="927.70" x2="198.35" y2="931.70" stroke="#231f20" stroke-width="1.1" />
<text x="198.35" y="941.00" font-size="8.8" text-anchor="middle" font-weight="bold" fill="#231f20" >7</text>
<line x1="218.10" y1="927.70" x2="218.10" y2="931.70" stroke="#231f20" stroke-width="1.1" />
<text x="218.10" y="941.00" font-size="8.8" text-anchor="middle" font-weight="bold" fill="#231f20" >8</text>
<line x1="237.85" y1="927.70" x2="237.85" y2="931.70" stroke="#231f20" stroke-width="1.1" />
<text x="237.85" y="941.00" font-size="8.8" text-anchor="middle" font-weight="bold" fill="#231f20" >9</text>
<text transform="translate(56.90,867.00) rotate(-90)" x="0" y="0" font-size="11.2" text-anchor="middle" font-weight="bold" fill="#231f20">Relative protein level</text>
<text x="127.90" y="816.90" font-size="13.2" text-anchor="start" font-weight="bold" fill="#231f20" >colorectum</text>
<rect x="249.00" y="818.30" width="12.60" height="6.00" fill="#8286c7" />
<rect x="249.00" y="834.20" width="12.60" height="6.00" fill="#ebb979" />
<text x="269.10" y="824.50" font-size="9.1" text-anchor="start" fill="#231f20" stroke="#231f20" stroke-width="0.15">Normal</text>
<text x="269.10" y="840.40" font-size="9.1" text-anchor="start" fill="#231f20" stroke="#231f20" stroke-width="0.15">Tumor</text>
<rect x="354.70" y="888.87" width="5.10" height="38.83" fill="#8286c7" />
<rect x="361.90" y="874.50" width="5.10" height="53.20" fill="#ebb979" />
<rect x="374.36" y="888.87" width="5.10" height="38.83" fill="#8286c7" />
<rect x="381.56" y="880.33" width="5.10" height="47.37" fill="#ebb979" />
<rect x="394.02" y="888.87" width="5.10" height="38.83" fill="#8286c7" />
<rect x="401.22" y="899.74" width="5.10" height="27.96" fill="#ebb979" />
<rect x="413.68" y="888.87" width="5.10" height="38.83" fill="#8286c7" />
<rect x="420.88" y="893.92" width="5.10" height="33.78" fill="#ebb979" />
<rect x="433.34" y="888.87" width="5.10" height="38.83" fill="#8286c7" />
<rect x="440.54" y="834.51" width="5.10" height="93.19" fill="#ebb979" />
<rect x="453.00" y="888.87" width="5.10" height="38.83" fill="#8286c7" />
<rect x="460.20" y="872.17" width="5.10" height="55.53" fill="#ebb979" />
<rect x="472.66" y="888.87" width="5.10" height="38.83" fill="#8286c7" />
<rect x="479.86" y="884.99" width="5.10" height="42.71" fill="#ebb979" />
<rect x="492.32" y="888.87" width="5.10" height="38.83" fill="#8286c7" />
<rect x="499.52" y="890.03" width="5.10" height="37.67" fill="#ebb979" />
<rect x="511.98" y="888.87" width="5.10" height="38.83" fill="#8286c7" />
<rect x="519.18" y="851.98" width="5.10" height="75.72" fill="#ebb979" />
<line x1="352.10" y1="810.71" x2="352.10" y2="928.30" stroke="#231f20" stroke-width="1.3" />
<line x1="351.50" y1="927.70" x2="529.14" y2="927.70" stroke="#231f20" stroke-width="1.3" />
<line x1="348.70" y1="927.70" x2="352.10" y2="927.70" stroke="#231f20" stroke-width="1.1" />
<text x="347.70" y="930.70" font-size="8.6" text-anchor="end" font-weight="bold" fill="#231f20" >0</text>
<line x1="348.70" y1="888.87" x2="352.10" y2="888.87" stroke="#231f20" stroke-width="1.1" />
<text x="347.70" y="891.87" font-size="8.6" text-anchor="end" font-weight="bold" fill="#231f20" >1</text>
<line x1="348.70" y1="850.04" x2="352.10" y2="850.04" stroke="#231f20" stroke-width="1.1" />
<text x="347.70" y="853.04" font-size="8.6" text-anchor="end" font-weight="bold" fill="#231f20" >2</text>
<line x1="348.70" y1="811.21" x2="352.10" y2="811.21" stroke="#231f20" stroke-width="1.1" />
<text x="347.70" y="814.21" font-size="8.6" text-anchor="end" font-weight="bold" fill="#231f20" >3</text>
<line x1="360.85" y1="927.70" x2="360.85" y2="931.70" stroke="#231f20" stroke-width="1.1" />
<text x="360.85" y="941.00" font-size="8.8" text-anchor="middle" font-weight="bold" fill="#231f20" >1</text>
<line x1="380.51" y1="927.70" x2="380.51" y2="931.70" stroke="#231f20" stroke-width="1.1" />
<text x="380.51" y="941.00" font-size="8.8" text-anchor="middle" font-weight="bold" fill="#231f20" >2</text>
<line x1="400.17" y1="927.70" x2="400.17" y2="931.70" stroke="#231f20" stroke-width="1.1" />
<text x="400.17" y="941.00" font-size="8.8" text-anchor="middle" font-weight="bold" fill="#231f20" >3</text>
<line x1="419.83" y1="927.70" x2="419.83" y2="931.70" stroke="#231f20" stroke-width="1.1" />
<text x="419.83" y="941.00" font-size="8.8" text-anchor="middle" font-weight="bold" fill="#231f20" >4</text>
<line x1="439.49" y1="927.70" x2="439.49" y2="931.70" stroke="#231f20" stroke-width="1.1" />
<text x="439.49" y="941.00" font-size="8.8" text-anchor="middle" font-weight="bold" fill="#231f20" >5</text>
<line x1="459.15" y1="927.70" x2="459.15" y2="931.70" stroke="#231f20" stroke-width="1.1" />
<text x="459.15" y="941.00" font-size="8.8" text-anchor="middle" font-weight="bold" fill="#231f20" >6</text>
<line x1="478.81" y1="927.70" x2="478.81" y2="931.70" stroke="#231f20" stroke-width="1.1" />
<text x="478.81" y="941.00" font-size="8.8" text-anchor="middle" font-weight="bold" fill="#231f20" >7</text>
<line x1="498.47" y1="927.70" x2="498.47" y2="931.70" stroke="#231f20" stroke-width="1.1" />
<text x="498.47" y="941.00" font-size="8.8" text-anchor="middle" font-weight="bold" fill="#231f20" >8</text>
<line x1="518.13" y1="927.70" x2="518.13" y2="931.70" stroke="#231f20" stroke-width="1.1" />
<text x="518.13" y="941.00" font-size="8.8" text-anchor="middle" font-weight="bold" fill="#231f20" >9</text>
<text transform="translate(337.30,867.00) rotate(-90)" x="0" y="0" font-size="11.2" text-anchor="middle" font-weight="bold" fill="#231f20">Relative protein level</text>
<text x="425.90" y="816.90" font-size="13.2" text-anchor="start" font-weight="bold" fill="#231f20" >liver</text>
<rect x="531.10" y="815.90" width="12.60" height="6.00" fill="#8286c7" />
<rect x="531.10" y="831.80" width="12.60" height="6.00" fill="#ebb979" />
<text x="551.20" y="822.10" font-size="9.1" text-anchor="start" fill="#231f20" stroke="#231f20" stroke-width="0.15">Normal</text>
<text x="551.20" y="838.00" font-size="9.1" text-anchor="start" fill="#231f20" stroke="#231f20" stroke-width="0.15">Tumor</text>
</svg></body></html>
